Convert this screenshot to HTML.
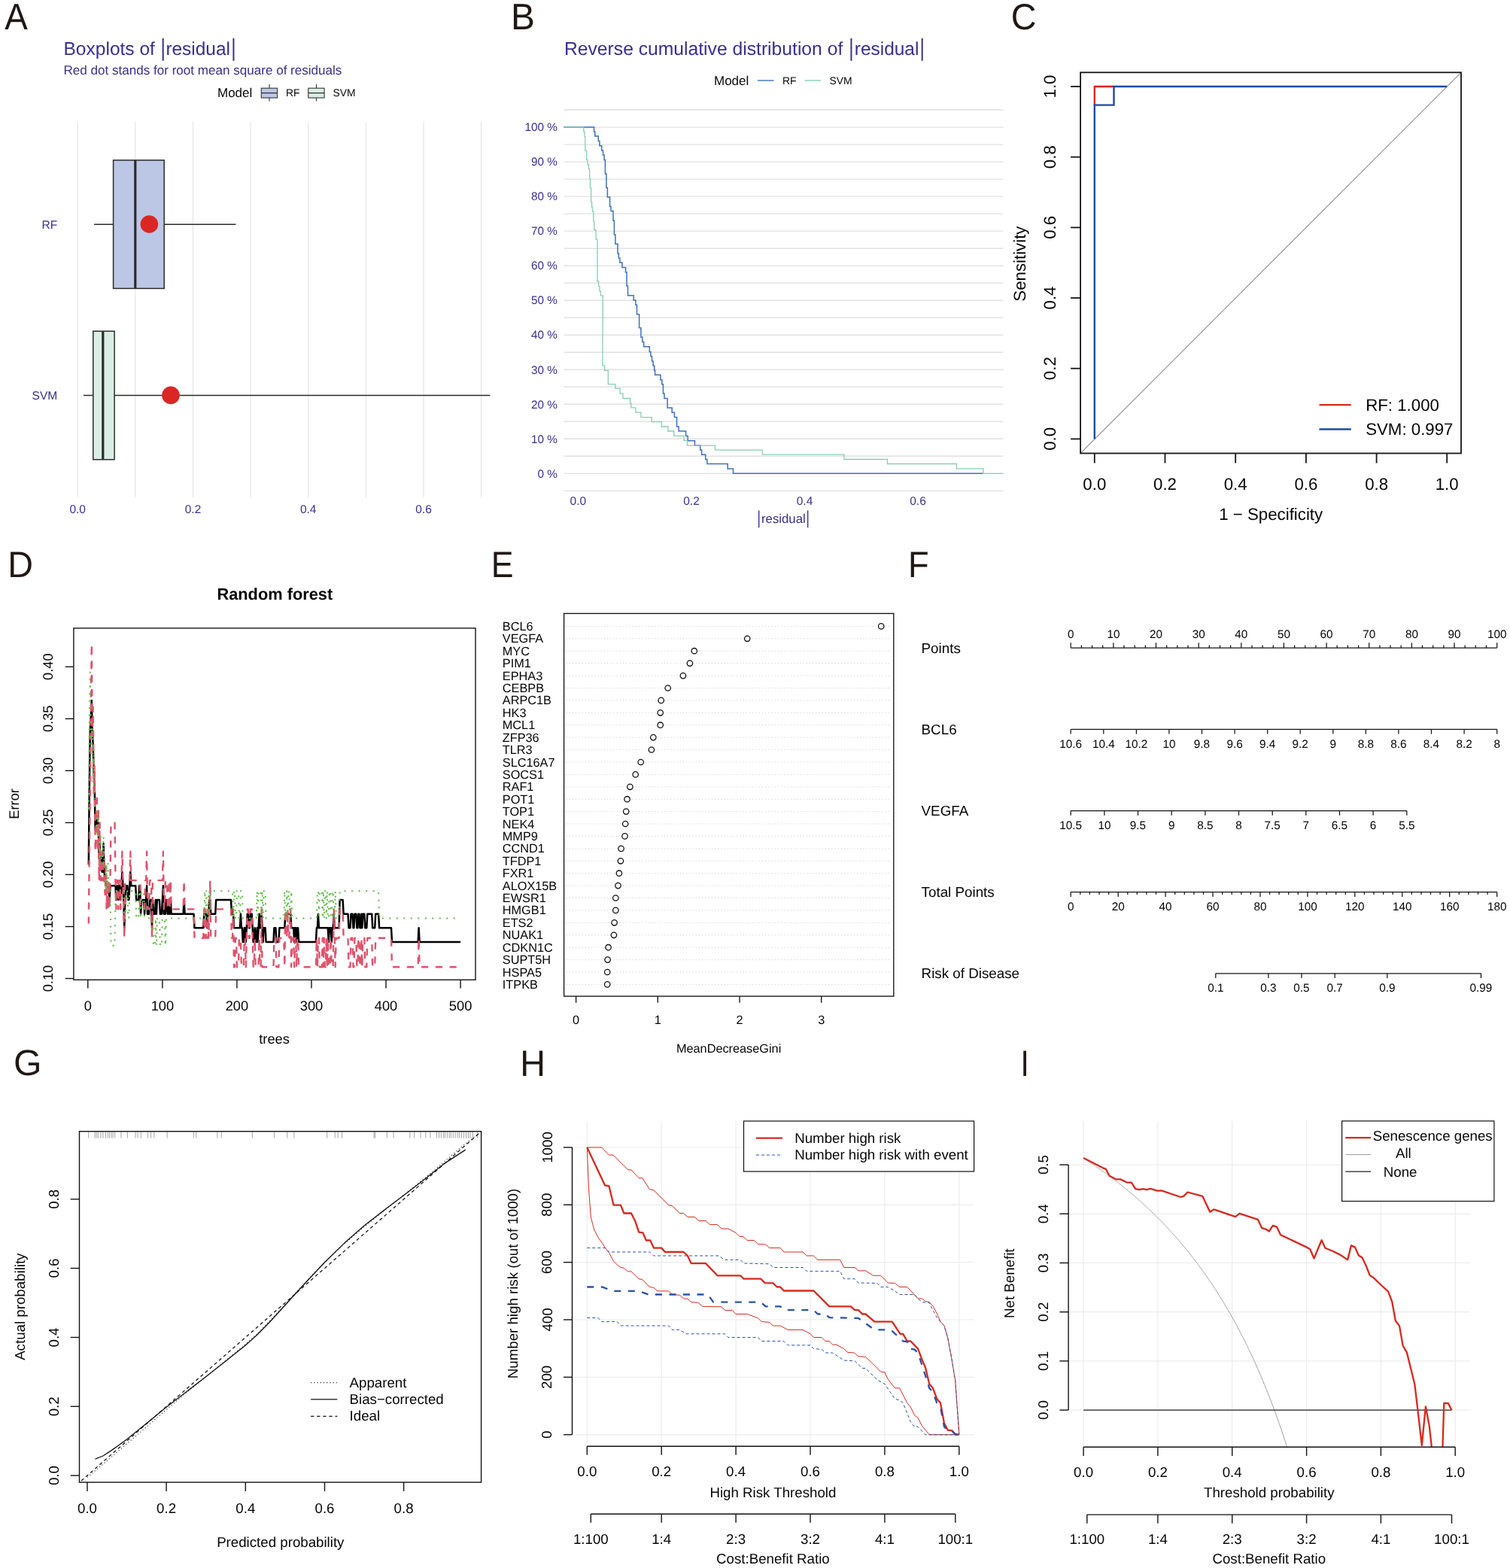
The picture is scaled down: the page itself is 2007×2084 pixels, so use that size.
<!DOCTYPE html>
<html lang="en"><head><meta charset="utf-8"><title>Figure</title>
<style>
html,body{margin:0;padding:0;background:#fff;}
svg{display:block;font-family:"Liberation Sans", sans-serif;}
text{white-space:pre;text-rendering:geometricPrecision;}
</style></head><body>
<svg width="2007" height="2084" viewBox="0 0 2007 2084">
<rect x="0" y="0" width="2007" height="2084" fill="#fff"/>
<text transform="translate(6.31 39.40) scale(0.9282 0.9945)" x="0" y="0" font-size="49.4" fill="#1f1815">A</text>
<text transform="translate(679.08 39.40) scale(0.9665 0.9945)" x="0" y="0" font-size="49.4" fill="#1f1815">B</text>
<text transform="translate(1343.82 39.21) scale(0.9466 0.9836)" x="0" y="0" font-size="49.4" fill="#1f1815">C</text>
<text transform="translate(10.26 766.50) scale(0.9472 0.9827)" x="0" y="0" font-size="49.4" fill="#1f1815">D</text>
<text transform="translate(652.84 766.50) scale(0.9038 0.9827)" x="0" y="0" font-size="49.4" fill="#1f1815">E</text>
<text transform="translate(1207.09 766.50) scale(0.9149 0.9827)" x="0" y="0" font-size="49.4" fill="#1f1815">F</text>
<text transform="translate(17.99 1429.22) scale(0.9765 0.9807)" x="0" y="0" font-size="49.4" fill="#1f1815">G</text>
<text transform="translate(691.17 1429.60) scale(0.9452 0.9827)" x="0" y="0" font-size="49.4" fill="#1f1815">H</text>
<text transform="translate(1356.58 1429.60) scale(0.8183 0.9827)" x="0" y="0" font-size="49.4" fill="#1f1815">I</text>
<text x="84.5" y="73.3" font-size="24.55" fill="#3a2f8f">Boxplots of </text>
<text transform="translate(216.8 74.2) scale(1 1.304)" x="0" y="0" font-size="24.55" text-anchor="middle" fill="#3a2f8f">|</text>
<text x="220.4" y="73.3" font-size="24.45" fill="#3a2f8f">residual</text>
<text transform="translate(310.4 74.2) scale(1 1.304)" x="0" y="0" font-size="24.55" text-anchor="middle" fill="#3a2f8f">|</text>
<text x="84.5" y="99.0" font-size="17.07" fill="#3a2f8f">Red dot stands for root mean square of residuals</text>
<text x="289.0" y="129.3" font-size="17" fill="#050505">Model</text>
<line x1="358.0" y1="112.0" x2="358.0" y2="134.5" stroke="#333" stroke-width="1.1"/>
<rect x="347.3" y="117.2" width="21.3" height="12.8" stroke="#333" fill="#bcc7e6" stroke-width="1.1"/>
<line x1="347.3" y1="123.6" x2="368.6" y2="123.6" stroke="#333" stroke-width="1.3"/>
<line x1="420.5" y1="112.0" x2="420.5" y2="134.5" stroke="#333" stroke-width="1.1"/>
<rect x="409.8" y="117.2" width="21.3" height="12.8" stroke="#333" fill="#dbeee5" stroke-width="1.1"/>
<line x1="409.8" y1="123.6" x2="431.1" y2="123.6" stroke="#333" stroke-width="1.3"/>
<text x="380.0" y="128.0" font-size="13.9" fill="#050505">RF</text>
<text x="442.6" y="128.0" font-size="13.9" fill="#050505">SVM</text>
<line x1="103.2" y1="161.6" x2="103.2" y2="661.3" stroke="#e3e3e3" stroke-width="1.1"/>
<line x1="179.8" y1="161.6" x2="179.8" y2="661.3" stroke="#e3e3e3" stroke-width="1.1"/>
<line x1="256.5" y1="161.6" x2="256.5" y2="661.3" stroke="#e3e3e3" stroke-width="1.1"/>
<line x1="333.1" y1="161.6" x2="333.1" y2="661.3" stroke="#e3e3e3" stroke-width="1.1"/>
<line x1="409.7" y1="161.6" x2="409.7" y2="661.3" stroke="#e3e3e3" stroke-width="1.1"/>
<line x1="486.3" y1="161.6" x2="486.3" y2="661.3" stroke="#e3e3e3" stroke-width="1.1"/>
<line x1="563.0" y1="161.6" x2="563.0" y2="661.3" stroke="#e3e3e3" stroke-width="1.1"/>
<line x1="639.6" y1="161.6" x2="639.6" y2="661.3" stroke="#e3e3e3" stroke-width="1.1"/>
<text x="103.2" y="681.7" font-size="15.5" text-anchor="middle" fill="#3a2f8f">0.0</text>
<text x="256.5" y="681.7" font-size="15.5" text-anchor="middle" fill="#3a2f8f">0.2</text>
<text x="409.7" y="681.7" font-size="15.5" text-anchor="middle" fill="#3a2f8f">0.4</text>
<text x="563.0" y="681.7" font-size="15.5" text-anchor="middle" fill="#3a2f8f">0.6</text>
<text x="76.3" y="303.6" font-size="15.6" text-anchor="end" fill="#3a2f8f">RF</text>
<text x="76.3" y="531.2" font-size="15.6" text-anchor="end" fill="#3a2f8f">SVM</text>
<line x1="125.0" y1="298.2" x2="313.4" y2="298.2" stroke="#2b2b2b" stroke-width="1.5"/>
<rect x="150.6" y="212.9" width="67.6" height="170.5" stroke="#2b2b2b" fill="#bcc7e6" stroke-width="1.5"/>
<line x1="179.8" y1="212.9" x2="179.8" y2="383.4" stroke="#2b2b2b" stroke-width="3.2"/>
<circle cx="198.4" cy="298.0" r="11.8" fill="#db2724" stroke="none" stroke-width="1"/>
<line x1="111.0" y1="525.6" x2="651.4" y2="525.6" stroke="#2b2b2b" stroke-width="1.5"/>
<rect x="123.8" y="440.2" width="28.3" height="170.6" stroke="#2b2b2b" fill="#dbeee5" stroke-width="1.5"/>
<line x1="136.8" y1="440.2" x2="136.8" y2="610.8" stroke="#2b2b2b" stroke-width="3.2"/>
<circle cx="227.0" cy="525.4" r="11.8" fill="#db2724" stroke="none" stroke-width="1"/>
<text x="750.0" y="73.3" font-size="24.68" fill="#3a2f8f">Reverse cumulative distribution of </text>
<text transform="translate(1131.4 74.2) scale(1 1.304)" x="0" y="0" font-size="24.55" text-anchor="middle" fill="#3a2f8f">|</text>
<text x="1135.8" y="73.3" font-size="24.45" fill="#3a2f8f">residual</text>
<text transform="translate(1225.8 74.2) scale(1 1.304)" x="0" y="0" font-size="24.55" text-anchor="middle" fill="#3a2f8f">|</text>
<text transform="translate(1008.7 695.6) scale(1 1.446)" x="0" y="0" font-size="16.8" text-anchor="middle" fill="#3a2f8f">|</text>
<text x="1012.0" y="694.5" font-size="16.8" fill="#3a2f8f">residual</text>
<text transform="translate(1073.7 695.6) scale(1 1.446)" x="0" y="0" font-size="16.8" text-anchor="middle" fill="#3a2f8f">|</text>
<text x="949.0" y="113.2" font-size="17" fill="#050505">Model</text>
<line x1="1007.0" y1="107.0" x2="1028.5" y2="107.0" stroke="#3d72b8" stroke-width="1.4"/>
<text x="1040.0" y="111.7" font-size="13.9" fill="#050505">RF</text>
<line x1="1069.7" y1="107.0" x2="1091.0" y2="107.0" stroke="#86cfb2" stroke-width="1.4"/>
<text x="1102.6" y="111.7" font-size="13.9" fill="#050505">SVM</text>
<line x1="749.3" y1="652.4" x2="1333.5" y2="652.4" stroke="#e2e2e2" stroke-width="1.4"/>
<line x1="749.3" y1="629.4" x2="1333.5" y2="629.4" stroke="#e2e2e2" stroke-width="1.4"/>
<line x1="749.3" y1="606.3" x2="1333.5" y2="606.3" stroke="#e2e2e2" stroke-width="1.4"/>
<line x1="749.3" y1="583.3" x2="1333.5" y2="583.3" stroke="#e2e2e2" stroke-width="1.4"/>
<line x1="749.3" y1="560.3" x2="1333.5" y2="560.3" stroke="#e2e2e2" stroke-width="1.4"/>
<line x1="749.3" y1="537.3" x2="1333.5" y2="537.3" stroke="#e2e2e2" stroke-width="1.4"/>
<line x1="749.3" y1="514.3" x2="1333.5" y2="514.3" stroke="#e2e2e2" stroke-width="1.4"/>
<line x1="749.3" y1="491.3" x2="1333.5" y2="491.3" stroke="#e2e2e2" stroke-width="1.4"/>
<line x1="749.3" y1="468.2" x2="1333.5" y2="468.2" stroke="#e2e2e2" stroke-width="1.4"/>
<line x1="749.3" y1="445.2" x2="1333.5" y2="445.2" stroke="#e2e2e2" stroke-width="1.4"/>
<line x1="749.3" y1="422.2" x2="1333.5" y2="422.2" stroke="#e2e2e2" stroke-width="1.4"/>
<line x1="749.3" y1="399.2" x2="1333.5" y2="399.2" stroke="#e2e2e2" stroke-width="1.4"/>
<line x1="749.3" y1="376.2" x2="1333.5" y2="376.2" stroke="#e2e2e2" stroke-width="1.4"/>
<line x1="749.3" y1="353.2" x2="1333.5" y2="353.2" stroke="#e2e2e2" stroke-width="1.4"/>
<line x1="749.3" y1="330.2" x2="1333.5" y2="330.2" stroke="#e2e2e2" stroke-width="1.4"/>
<line x1="749.3" y1="307.1" x2="1333.5" y2="307.1" stroke="#e2e2e2" stroke-width="1.4"/>
<line x1="749.3" y1="284.1" x2="1333.5" y2="284.1" stroke="#e2e2e2" stroke-width="1.4"/>
<line x1="749.3" y1="261.1" x2="1333.5" y2="261.1" stroke="#e2e2e2" stroke-width="1.4"/>
<line x1="749.3" y1="238.1" x2="1333.5" y2="238.1" stroke="#e2e2e2" stroke-width="1.4"/>
<line x1="749.3" y1="215.1" x2="1333.5" y2="215.1" stroke="#e2e2e2" stroke-width="1.4"/>
<line x1="749.3" y1="192.1" x2="1333.5" y2="192.1" stroke="#e2e2e2" stroke-width="1.4"/>
<line x1="749.3" y1="169.1" x2="1333.5" y2="169.1" stroke="#e2e2e2" stroke-width="1.4"/>
<line x1="749.3" y1="146.0" x2="1333.5" y2="146.0" stroke="#e2e2e2" stroke-width="1.4"/>
<text x="740.8" y="634.6" font-size="15.3" text-anchor="end" fill="#3a2f8f">0 %</text>
<text x="740.8" y="588.5" font-size="15.3" text-anchor="end" fill="#3a2f8f">10 %</text>
<text x="740.8" y="542.5" font-size="15.3" text-anchor="end" fill="#3a2f8f">20 %</text>
<text x="740.8" y="496.5" font-size="15.3" text-anchor="end" fill="#3a2f8f">30 %</text>
<text x="740.8" y="450.4" font-size="15.3" text-anchor="end" fill="#3a2f8f">40 %</text>
<text x="740.8" y="404.4" font-size="15.3" text-anchor="end" fill="#3a2f8f">50 %</text>
<text x="740.8" y="358.4" font-size="15.3" text-anchor="end" fill="#3a2f8f">60 %</text>
<text x="740.8" y="312.3" font-size="15.3" text-anchor="end" fill="#3a2f8f">70 %</text>
<text x="740.8" y="266.3" font-size="15.3" text-anchor="end" fill="#3a2f8f">80 %</text>
<text x="740.8" y="220.3" font-size="15.3" text-anchor="end" fill="#3a2f8f">90 %</text>
<text x="740.8" y="174.2" font-size="15.3" text-anchor="end" fill="#3a2f8f">100 %</text>
<text x="768.4" y="670.8" font-size="15.5" text-anchor="middle" fill="#3a2f8f">0.0</text>
<text x="919.0" y="670.8" font-size="15.5" text-anchor="middle" fill="#3a2f8f">0.2</text>
<text x="1069.5" y="670.8" font-size="15.5" text-anchor="middle" fill="#3a2f8f">0.4</text>
<text x="1220.0" y="670.8" font-size="15.5" text-anchor="middle" fill="#3a2f8f">0.6</text>
<polyline points="749.3,169.1 789.6,169.1 789.6,175.1 790.8,175.1 790.8,181.1 795.3,181.1 795.3,187.5 796.9,187.5 796.9,193.7 799.7,193.7 799.7,200.1 801.5,200.1 801.5,206.1 803.1,206.1 803.1,212.4 804.4,212.4 804.4,231.0 805.9,231.0 805.9,249.6 807.4,249.6 807.4,262.0 810.6,262.0 810.6,274.4 812.0,274.4 812.0,280.6 815.0,280.6 815.0,293.3 816.4,293.3 816.4,311.8 817.9,311.8 817.9,324.3 821.0,324.3 821.0,336.7 822.3,336.7 822.3,342.9 823.9,342.9 823.9,349.1 826.9,349.1 826.9,355.5 831.5,355.5 831.5,361.7 833.0,361.7 833.0,380.1 834.5,380.1 834.5,392.8 842.2,392.8 842.2,399.0 844.9,399.0 844.9,405.2 846.5,405.2 846.5,417.7 849.6,417.7 849.6,436.3 849.6,435.7 851.9,435.7 851.9,448.1 853.8,448.1 853.8,454.5 855.7,454.5 855.7,460.8 863.3,460.8 863.3,467.5 864.9,467.5 864.9,473.5 866.5,473.5 866.5,479.9 868.1,479.9 868.1,485.9 869.7,485.9 869.7,492.3 870.6,492.3 870.6,498.3 877.9,498.3 877.9,504.7 879.8,504.7 879.8,510.7 881.4,510.7 881.4,523.1 883.0,523.1 883.0,529.5 887.1,529.5 887.1,541.9 893.2,541.9 893.2,548.2 896.4,548.2 896.4,554.6 899.5,554.6 899.5,567.0 902.1,567.0 902.1,573.0 911.6,573.0 911.6,579.4 914.2,579.4 914.2,585.7 923.4,585.7 923.4,592.1 930.7,592.1 930.7,598.1 932.6,598.1 932.6,604.2 937.7,604.2 937.7,610.5 939.9,610.5 939.9,616.5 967.2,616.5 967.2,622.9 974.5,622.9 974.5,629.3 1306.3,629.3" fill="none" stroke="#3d72b8" stroke-width="1.5" stroke-linejoin="miter"/>
<polyline points="749.3,169.1 775.8,169.1 775.8,175.1 776.9,175.1 776.9,181.8 777.8,181.8 777.8,200.1 779.7,200.1 779.7,212.4 781.0,212.4 781.0,218.6 782.4,218.6 782.4,224.7 783.7,224.7 783.7,237.4 784.5,237.4 784.5,249.6 785.6,249.6 785.6,268.4 786.6,268.4 786.6,275.5 787.4,275.5 787.4,281.1 788.8,281.1 788.8,293.8 789.7,293.8 789.7,305.7 792.1,305.7 792.1,318.1 794.0,318.1 794.0,374.0 795.6,374.0 795.6,380.4 796.9,380.4 796.9,386.8 798.3,386.8 798.3,392.8 801.3,392.8 801.3,430.0 801.0,430.0 801.0,485.9 803.6,485.9 803.6,492.3 808.3,492.3 808.3,510.7 817.9,510.7 817.9,516.4 824.2,516.4 824.2,523.1 828.0,523.1 828.0,529.5 837.6,529.5 837.6,535.8 838.8,535.8 838.8,541.9 844.9,541.9 844.9,548.2 851.9,548.2 851.9,554.6 866.2,554.6 866.2,560.6 879.2,560.6 879.2,567.0 887.8,567.0 887.8,573.0 895.7,573.0 895.7,579.4 909.1,579.4 909.1,585.7 913.5,585.7 913.5,592.1 950.4,592.1 950.4,598.1 1013.3,598.1 1013.3,604.2 1122.0,604.2 1122.0,610.5 1179.5,610.5 1179.5,616.5 1271.4,616.5 1271.4,622.9 1306.9,622.9 1306.9,629.3 1333.3,629.3" fill="none" stroke="#86cfb2" stroke-width="1.3" stroke-linejoin="miter"/>
<line x1="1436.1" y1="602.5" x2="1942.0" y2="96.3" stroke="#9a9a9a" stroke-width="1.2"/>
<polyline points="1454.8,139.6 1454.8,115.0 1480.5,115.0" fill="none" stroke="#d9251c" stroke-width="2.3" stroke-linejoin="miter"/>
<polyline points="1454.8,583.4 1454.8,139.6 1480.5,139.6 1480.5,115.0 1923.2,115.0" fill="none" stroke="#2049a2" stroke-width="2.4" stroke-linejoin="miter"/>
<rect x="1436.1" y="96.3" width="505.9" height="506.2" stroke="#151515" fill="none" stroke-width="1.8"/>
<line x1="1454.8" y1="602.5" x2="1454.8" y2="615.5" stroke="#151515" stroke-width="1.8"/>
<text x="1454.8" y="650.5" font-size="22.25" text-anchor="middle" fill="#050505">0.0</text>
<line x1="1423.1" y1="583.4" x2="1436.1" y2="583.4" stroke="#151515" stroke-width="1.8"/>
<text x="1403.3" y="583.4" font-size="22.25" text-anchor="middle" fill="#050505" transform="rotate(-90 1403.3 583.4)">0.0</text>
<line x1="1548.5" y1="602.5" x2="1548.5" y2="615.5" stroke="#151515" stroke-width="1.8"/>
<text x="1548.5" y="650.5" font-size="22.25" text-anchor="middle" fill="#050505">0.2</text>
<line x1="1423.1" y1="489.7" x2="1436.1" y2="489.7" stroke="#151515" stroke-width="1.8"/>
<text x="1403.3" y="489.7" font-size="22.25" text-anchor="middle" fill="#050505" transform="rotate(-90 1403.3 489.7)">0.2</text>
<line x1="1642.2" y1="602.5" x2="1642.2" y2="615.5" stroke="#151515" stroke-width="1.8"/>
<text x="1642.2" y="650.5" font-size="22.25" text-anchor="middle" fill="#050505">0.4</text>
<line x1="1423.1" y1="396.0" x2="1436.1" y2="396.0" stroke="#151515" stroke-width="1.8"/>
<text x="1403.3" y="396.0" font-size="22.25" text-anchor="middle" fill="#050505" transform="rotate(-90 1403.3 396.0)">0.4</text>
<line x1="1735.9" y1="602.5" x2="1735.9" y2="615.5" stroke="#151515" stroke-width="1.8"/>
<text x="1735.9" y="650.5" font-size="22.25" text-anchor="middle" fill="#050505">0.6</text>
<line x1="1423.1" y1="302.4" x2="1436.1" y2="302.4" stroke="#151515" stroke-width="1.8"/>
<text x="1403.3" y="302.4" font-size="22.25" text-anchor="middle" fill="#050505" transform="rotate(-90 1403.3 302.4)">0.6</text>
<line x1="1829.6" y1="602.5" x2="1829.6" y2="615.5" stroke="#151515" stroke-width="1.8"/>
<text x="1829.6" y="650.5" font-size="22.25" text-anchor="middle" fill="#050505">0.8</text>
<line x1="1423.1" y1="208.7" x2="1436.1" y2="208.7" stroke="#151515" stroke-width="1.8"/>
<text x="1403.3" y="208.7" font-size="22.25" text-anchor="middle" fill="#050505" transform="rotate(-90 1403.3 208.7)">0.8</text>
<line x1="1923.2" y1="602.5" x2="1923.2" y2="615.5" stroke="#151515" stroke-width="1.8"/>
<text x="1923.2" y="650.5" font-size="22.25" text-anchor="middle" fill="#050505">1.0</text>
<line x1="1423.1" y1="115.0" x2="1436.1" y2="115.0" stroke="#151515" stroke-width="1.8"/>
<text x="1403.3" y="115.0" font-size="22.25" text-anchor="middle" fill="#050505" transform="rotate(-90 1403.3 115.0)">1.0</text>
<text x="1689.2" y="690.8" font-size="22.25" text-anchor="middle" fill="#050505">1 − Specificity</text>
<text x="1363.0" y="350.6" font-size="22.25" text-anchor="middle" fill="#050505" transform="rotate(-90 1363.0 350.6)">Sensitivity</text>
<line x1="1753.5" y1="538.2" x2="1795.8" y2="538.2" stroke="#d9281f" stroke-width="2.3"/>
<line x1="1753.5" y1="570.5" x2="1795.8" y2="570.5" stroke="#2049a2" stroke-width="2.4"/>
<text x="1815.2" y="545.6" font-size="22.25" fill="#050505">RF: 1.000</text>
<text x="1815.2" y="577.9" font-size="22.25" fill="#050505">SVM: 0.997</text>
<text x="365.3" y="797.1" font-size="21.8" text-anchor="middle" font-weight="bold" fill="#050505">Random forest</text>
<polyline points="117.8,1149.3 118.8,1046.7 119.8,972.0 120.8,953.4 121.8,931.0 122.7,972.0 123.7,990.7 124.7,1028.0 125.7,1046.7 126.7,1102.7 127.7,1084.0 128.7,1084.0 129.7,1102.7 130.7,1093.4 131.7,1140.0 132.6,1121.3 133.6,1140.0 134.6,1140.0 135.6,1158.7 136.6,1158.7 137.6,1121.3 138.6,1158.7 139.6,1168.0 140.6,1168.0 141.6,1177.3 142.6,1177.3 143.5,1177.3 144.5,1177.3 145.5,1196.0 146.5,1177.3 147.5,1177.3 148.5,1177.3 149.5,1177.3 150.5,1177.3 151.5,1177.3 152.5,1177.3 153.5,1177.3 154.4,1196.0 155.4,1177.3 156.4,1177.3 157.4,1196.0 158.4,1177.3 159.4,1177.3 160.4,1196.0 161.4,1177.3 162.4,1158.7 163.4,1177.3 164.3,1196.0 165.3,1233.3 166.3,1196.0 167.3,1177.3 168.3,1177.3 169.3,1177.3 170.3,1196.0 171.3,1196.0 172.3,1177.3 173.3,1158.7 174.3,1177.3 175.2,1177.3 176.2,1177.3 177.2,1177.3 178.2,1177.3 179.2,1177.3 180.2,1177.3 181.2,1196.0 182.2,1196.0 183.2,1196.0 184.2,1196.0 185.2,1177.3 186.1,1177.3 187.1,1214.7 188.1,1196.0 189.1,1196.0 190.1,1196.0 191.1,1196.0 192.1,1214.7 193.1,1196.0 194.1,1196.0 195.1,1177.3 196.0,1214.7 197.0,1214.7 198.0,1214.7 199.0,1196.0 200.0,1196.0 201.0,1196.0 202.0,1233.3 203.0,1196.0 204.0,1214.7 205.0,1214.7 206.0,1214.7 206.9,1196.0 207.9,1214.7 208.9,1196.0 209.9,1196.0 210.9,1196.0 211.9,1196.0 212.9,1214.7 213.9,1214.7 214.9,1214.7 215.9,1196.0 216.9,1177.3 217.8,1214.7 218.8,1214.7 219.8,1214.7 220.8,1196.0 221.8,1196.0 222.8,1214.7 223.8,1214.7 224.8,1196.0 225.8,1214.7 226.8,1196.0 227.7,1214.7 228.7,1214.7 229.7,1214.7 230.7,1214.7 231.7,1214.7 232.7,1214.7 233.7,1214.7 234.7,1214.7 235.7,1214.7 236.7,1214.7 237.7,1214.7 238.6,1214.7 239.6,1214.7 240.6,1214.7 241.6,1214.7 242.6,1214.7 243.6,1214.7 244.6,1196.0 245.6,1214.7 246.6,1214.7 247.6,1214.7 248.5,1214.7 249.5,1214.7 250.5,1214.7 251.5,1214.7 252.5,1214.7 253.5,1214.7 254.5,1214.7 255.5,1214.7 256.5,1214.7 257.5,1214.7 258.5,1233.3 259.4,1233.3 260.4,1233.3 261.4,1233.3 262.4,1233.3 263.4,1233.3 264.4,1233.3 265.4,1233.3 266.4,1233.3 267.4,1233.3 268.4,1233.3 269.4,1233.3 270.3,1233.3 271.3,1214.7 272.3,1214.7 273.3,1214.7 274.3,1214.7 275.3,1233.3 276.3,1214.7 277.3,1214.7 278.3,1196.0 279.3,1196.0 280.2,1214.7 281.2,1214.7 282.2,1214.7 283.2,1214.7 284.2,1214.7 285.2,1214.7 286.2,1214.7 287.2,1196.0 288.2,1196.0 289.2,1196.0 290.2,1196.0 291.1,1196.0 292.1,1196.0 293.1,1196.0 294.1,1196.0 295.1,1196.0 296.1,1196.0 297.1,1196.0 298.1,1196.0 299.1,1196.0 300.1,1196.0 301.1,1196.0 302.0,1196.0 303.0,1196.0 304.0,1196.0 305.0,1196.0 306.0,1196.0 307.0,1196.0 308.0,1214.7 309.0,1214.7 310.0,1214.7 311.0,1233.3 311.9,1233.3 312.9,1233.3 313.9,1233.3 314.9,1233.3 315.9,1233.3 316.9,1233.3 317.9,1233.3 318.9,1233.3 319.9,1214.7 320.9,1233.3 321.9,1233.3 322.8,1252.0 323.8,1252.0 324.8,1233.3 325.8,1233.3 326.8,1252.0 327.8,1233.3 328.8,1214.7 329.8,1214.7 330.8,1233.3 331.8,1233.3 332.8,1214.7 333.7,1214.7 334.7,1214.7 335.7,1233.3 336.7,1252.0 337.7,1252.0 338.7,1233.3 339.7,1252.0 340.7,1252.0 341.7,1233.3 342.7,1252.0 343.6,1233.3 344.6,1214.7 345.6,1233.3 346.6,1233.3 347.6,1214.7 348.6,1233.3 349.6,1252.0 350.6,1233.3 351.6,1233.3 352.6,1233.3 353.6,1252.0 354.5,1252.0 355.5,1252.0 356.5,1252.0 357.5,1252.0 358.5,1252.0 359.5,1252.0 360.5,1252.0 361.5,1252.0 362.5,1252.0 363.5,1252.0 364.4,1233.3 365.4,1233.3 366.4,1233.3 367.4,1252.0 368.4,1252.0 369.4,1252.0 370.4,1252.0 371.4,1233.3 372.4,1233.3 373.4,1233.3 374.4,1233.3 375.3,1233.3 376.3,1233.3 377.3,1233.3 378.3,1233.3 379.3,1214.7 380.3,1214.7 381.3,1214.7 382.3,1214.7 383.3,1214.7 384.3,1214.7 385.3,1214.7 386.2,1214.7 387.2,1233.3 388.2,1233.3 389.2,1233.3 390.2,1233.3 391.2,1252.0 392.2,1233.3 393.2,1233.3 394.2,1252.0 395.2,1233.3 396.1,1233.3 397.1,1252.0 398.1,1252.0 399.1,1252.0 400.1,1252.0 401.1,1252.0 402.1,1252.0 403.1,1252.0 404.1,1252.0 405.1,1252.0 406.1,1252.0 407.0,1252.0 408.0,1252.0 409.0,1252.0 410.0,1252.0 411.0,1252.0 412.0,1252.0 413.0,1252.0 414.0,1252.0 415.0,1252.0 416.0,1252.0 417.0,1252.0 417.9,1252.0 418.9,1252.0 419.9,1252.0 420.9,1233.3 421.9,1233.3 422.9,1214.7 423.9,1233.3 424.9,1233.3 425.9,1233.3 426.9,1233.3 427.8,1233.3 428.8,1233.3 429.8,1233.3 430.8,1233.3 431.8,1233.3 432.8,1233.3 433.8,1233.3 434.8,1233.3 435.8,1233.3 436.8,1252.0 437.8,1233.3 438.7,1233.3 439.7,1233.3 440.7,1252.0 441.7,1233.3 442.7,1233.3 443.7,1214.7 444.7,1233.3 445.7,1233.3 446.7,1233.3 447.7,1233.3 448.7,1233.3 449.6,1233.3 450.6,1233.3 451.6,1196.0 452.6,1196.0 453.6,1196.0 454.6,1196.0 455.6,1196.0 456.6,1214.7 457.6,1214.7 458.6,1214.7 459.5,1214.7 460.5,1214.7 461.5,1214.7 462.5,1214.7 463.5,1233.3 464.5,1233.3 465.5,1233.3 466.5,1214.7 467.5,1214.7 468.5,1214.7 469.5,1233.3 470.4,1233.3 471.4,1214.7 472.4,1214.7 473.4,1214.7 474.4,1233.3 475.4,1233.3 476.4,1214.7 477.4,1214.7 478.4,1233.3 479.4,1233.3 480.4,1214.7 481.3,1233.3 482.3,1214.7 483.3,1214.7 484.3,1214.7 485.3,1233.3 486.3,1233.3 487.3,1233.3 488.3,1214.7 489.3,1214.7 490.3,1214.7 491.2,1214.7 492.2,1214.7 493.2,1214.7 494.2,1214.7 495.2,1233.3 496.2,1233.3 497.2,1233.3 498.2,1233.3 499.2,1214.7 500.2,1214.7 501.2,1214.7 502.1,1214.7 503.1,1214.7 504.1,1233.3 505.1,1233.3 506.1,1233.3 507.1,1233.3 508.1,1233.3 509.1,1233.3 510.1,1233.3 511.1,1233.3 512.0,1233.3 513.0,1233.3 514.0,1233.3 515.0,1233.3 516.0,1233.3 517.0,1233.3 518.0,1233.3 519.0,1233.3 520.0,1233.3 521.0,1252.0 522.0,1252.0 522.9,1252.0 523.9,1252.0 524.9,1252.0 525.9,1252.0 526.9,1252.0 527.9,1252.0 528.9,1252.0 529.9,1252.0 530.9,1252.0 531.9,1252.0 532.9,1252.0 533.8,1252.0 534.8,1252.0 535.8,1252.0 536.8,1252.0 537.8,1252.0 538.8,1252.0 539.8,1252.0 540.8,1252.0 541.8,1252.0 542.8,1252.0 543.7,1252.0 544.7,1252.0 545.7,1252.0 546.7,1252.0 547.7,1252.0 548.7,1252.0 549.7,1252.0 550.7,1252.0 551.7,1252.0 552.7,1252.0 553.7,1252.0 554.6,1252.0 555.6,1252.0 556.6,1233.3 557.6,1252.0 558.6,1252.0 559.6,1252.0 560.6,1252.0 561.6,1252.0 562.6,1252.0 563.6,1252.0 564.6,1252.0 565.5,1252.0 566.5,1252.0 567.5,1252.0 568.5,1252.0 569.5,1252.0 570.5,1252.0 571.5,1252.0 572.5,1252.0 573.5,1252.0 574.5,1252.0 575.4,1252.0 576.4,1252.0 577.4,1252.0 578.4,1252.0 579.4,1252.0 580.4,1252.0 581.4,1252.0 582.4,1252.0 583.4,1252.0 584.4,1252.0 585.4,1252.0 586.3,1252.0 587.3,1252.0 588.3,1252.0 589.3,1252.0 590.3,1252.0 591.3,1252.0 592.3,1252.0 593.3,1252.0 594.3,1252.0 595.3,1252.0 596.3,1252.0 597.2,1252.0 598.2,1252.0 599.2,1252.0 600.2,1252.0 601.2,1252.0 602.2,1252.0 603.2,1252.0 604.2,1252.0 605.2,1252.0 606.2,1252.0 607.1,1252.0 608.1,1252.0 609.1,1252.0 610.1,1252.0 611.1,1252.0 612.1,1252.0" fill="none" stroke="#000" stroke-width="2.5" stroke-linejoin="round"/>
<polyline points="117.8,1227.6 118.8,1131.7 119.8,1055.0 120.8,939.9 121.8,855.5 122.7,978.3 123.7,939.9 124.7,1055.0 125.7,1016.6 126.7,1131.7 127.7,1093.4 128.7,1055.0 129.7,1131.7 130.7,1074.2 131.7,1170.1 132.6,1093.4 133.6,1170.1 134.6,1131.7 135.6,1170.1 136.6,1170.1 137.6,1131.7 138.6,1170.1 139.6,1189.3 140.6,1150.9 141.6,1208.4 142.6,1170.1 143.5,1208.4 144.5,1170.1 145.5,1208.4 146.5,1170.1 147.5,1093.4 148.5,1093.4 149.5,1093.4 150.5,1093.4 151.5,1093.4 152.5,1093.4 153.5,1170.1 154.4,1208.4 155.4,1170.1 156.4,1170.1 157.4,1208.4 158.4,1170.1 159.4,1170.1 160.4,1208.4 161.4,1170.1 162.4,1131.7 163.4,1170.1 164.3,1208.4 165.3,1246.8 166.3,1170.1 167.3,1170.1 168.3,1170.1 169.3,1170.1 170.3,1170.1 171.3,1170.1 172.3,1170.1 173.3,1131.7 174.3,1170.1 175.2,1170.1 176.2,1170.1 177.2,1170.1 178.2,1170.1 179.2,1170.1 180.2,1170.1 181.2,1170.1 182.2,1170.1 183.2,1170.1 184.2,1170.1 185.2,1170.1 186.1,1170.1 187.1,1208.4 188.1,1208.4 189.1,1208.4 190.1,1208.4 191.1,1208.4 192.1,1208.4 193.1,1170.1 194.1,1170.1 195.1,1131.7 196.0,1208.4 197.0,1208.4 198.0,1208.4 199.0,1170.1 200.0,1170.1 201.0,1170.1 202.0,1246.8 203.0,1170.1 204.0,1170.1 205.0,1170.1 206.0,1170.1 206.9,1170.1 207.9,1170.1 208.9,1170.1 209.9,1170.1 210.9,1170.1 211.9,1170.1 212.9,1170.1 213.9,1170.1 214.9,1170.1 215.9,1170.1 216.9,1131.7 217.8,1208.4 218.8,1208.4 219.8,1170.1 220.8,1170.1 221.8,1170.1 222.8,1208.4 223.8,1208.4 224.8,1170.1 225.8,1208.4 226.8,1170.1 227.7,1208.4 228.7,1208.4 229.7,1208.4 230.7,1208.4 231.7,1208.4 232.7,1208.4 233.7,1208.4 234.7,1208.4 235.7,1208.4 236.7,1208.4 237.7,1208.4 238.6,1208.4 239.6,1208.4 240.6,1208.4 241.6,1208.4 242.6,1208.4 243.6,1208.4 244.6,1170.1 245.6,1208.4 246.6,1208.4 247.6,1208.4 248.5,1208.4 249.5,1208.4 250.5,1208.4 251.5,1208.4 252.5,1208.4 253.5,1208.4 254.5,1208.4 255.5,1208.4 256.5,1208.4 257.5,1208.4 258.5,1246.8 259.4,1246.8 260.4,1246.8 261.4,1246.8 262.4,1246.8 263.4,1246.8 264.4,1246.8 265.4,1246.8 266.4,1246.8 267.4,1246.8 268.4,1246.8 269.4,1246.8 270.3,1246.8 271.3,1208.4 272.3,1246.8 273.3,1208.4 274.3,1246.8 275.3,1246.8 276.3,1208.4 277.3,1246.8 278.3,1208.4 279.3,1170.1 280.2,1246.8 281.2,1246.8 282.2,1246.8 283.2,1246.8 284.2,1246.8 285.2,1246.8 286.2,1246.8 287.2,1208.4 288.2,1208.4 289.2,1208.4 290.2,1208.4 291.1,1208.4 292.1,1208.4 293.1,1208.4 294.1,1208.4 295.1,1208.4 296.1,1208.4 297.1,1208.4 298.1,1208.4 299.1,1208.4 300.1,1208.4 301.1,1208.4 302.0,1208.4 303.0,1208.4 304.0,1208.4 305.0,1208.4 306.0,1208.4 307.0,1208.4 308.0,1246.8 309.0,1246.8 310.0,1208.4 311.0,1285.2 311.9,1285.2 312.9,1246.8 313.9,1246.8 314.9,1285.2 315.9,1285.2 316.9,1285.2 317.9,1246.8 318.9,1246.8 319.9,1246.8 320.9,1285.2 321.9,1285.2 322.8,1285.2 323.8,1285.2 324.8,1246.8 325.8,1246.8 326.8,1285.2 327.8,1246.8 328.8,1208.4 329.8,1208.4 330.8,1246.8 331.8,1246.8 332.8,1208.4 333.7,1208.4 334.7,1208.4 335.7,1246.8 336.7,1285.2 337.7,1285.2 338.7,1246.8 339.7,1285.2 340.7,1285.2 341.7,1285.2 342.7,1285.2 343.6,1285.2 344.6,1246.8 345.6,1285.2 346.6,1285.2 347.6,1208.4 348.6,1285.2 349.6,1285.2 350.6,1285.2 351.6,1285.2 352.6,1285.2 353.6,1285.2 354.5,1285.2 355.5,1285.2 356.5,1285.2 357.5,1285.2 358.5,1285.2 359.5,1285.2 360.5,1285.2 361.5,1285.2 362.5,1285.2 363.5,1285.2 364.4,1246.8 365.4,1246.8 366.4,1246.8 367.4,1285.2 368.4,1285.2 369.4,1285.2 370.4,1285.2 371.4,1246.8 372.4,1246.8 373.4,1246.8 374.4,1246.8 375.3,1246.8 376.3,1246.8 377.3,1246.8 378.3,1285.2 379.3,1208.4 380.3,1208.4 381.3,1246.8 382.3,1208.4 383.3,1246.8 384.3,1246.8 385.3,1208.4 386.2,1208.4 387.2,1285.2 388.2,1246.8 389.2,1246.8 390.2,1246.8 391.2,1285.2 392.2,1246.8 393.2,1246.8 394.2,1285.2 395.2,1246.8 396.1,1246.8 397.1,1285.2 398.1,1285.2 399.1,1285.2 400.1,1285.2 401.1,1285.2 402.1,1285.2 403.1,1285.2 404.1,1285.2 405.1,1285.2 406.1,1285.2 407.0,1285.2 408.0,1285.2 409.0,1285.2 410.0,1285.2 411.0,1285.2 412.0,1285.2 413.0,1285.2 414.0,1285.2 415.0,1285.2 416.0,1285.2 417.0,1285.2 417.9,1285.2 418.9,1285.2 419.9,1285.2 420.9,1246.8 421.9,1285.2 422.9,1246.8 423.9,1246.8 424.9,1285.2 425.9,1285.2 426.9,1285.2 427.8,1285.2 428.8,1246.8 429.8,1285.2 430.8,1246.8 431.8,1285.2 432.8,1285.2 433.8,1246.8 434.8,1285.2 435.8,1246.8 436.8,1285.2 437.8,1285.2 438.7,1285.2 439.7,1246.8 440.7,1285.2 441.7,1285.2 442.7,1285.2 443.7,1208.4 444.7,1246.8 445.7,1285.2 446.7,1246.8 447.7,1246.8 448.7,1246.8 449.6,1246.8 450.6,1246.8 451.6,1208.4 452.6,1208.4 453.6,1208.4 454.6,1208.4 455.6,1208.4 456.6,1246.8 457.6,1246.8 458.6,1246.8 459.5,1246.8 460.5,1246.8 461.5,1246.8 462.5,1246.8 463.5,1285.2 464.5,1285.2 465.5,1285.2 466.5,1246.8 467.5,1246.8 468.5,1246.8 469.5,1285.2 470.4,1285.2 471.4,1246.8 472.4,1246.8 473.4,1246.8 474.4,1285.2 475.4,1285.2 476.4,1246.8 477.4,1246.8 478.4,1285.2 479.4,1285.2 480.4,1246.8 481.3,1285.2 482.3,1246.8 483.3,1246.8 484.3,1246.8 485.3,1285.2 486.3,1285.2 487.3,1285.2 488.3,1246.8 489.3,1246.8 490.3,1246.8 491.2,1246.8 492.2,1246.8 493.2,1246.8 494.2,1246.8 495.2,1285.2 496.2,1285.2 497.2,1285.2 498.2,1285.2 499.2,1246.8 500.2,1246.8 501.2,1246.8 502.1,1246.8 503.1,1246.8 504.1,1246.8 505.1,1246.8 506.1,1246.8 507.1,1246.8 508.1,1246.8 509.1,1246.8 510.1,1246.8 511.1,1246.8 512.0,1246.8 513.0,1246.8 514.0,1246.8 515.0,1246.8 516.0,1246.8 517.0,1246.8 518.0,1246.8 519.0,1246.8 520.0,1246.8 521.0,1285.2 522.0,1285.2 522.9,1285.2 523.9,1285.2 524.9,1285.2 525.9,1285.2 526.9,1285.2 527.9,1285.2 528.9,1285.2 529.9,1285.2 530.9,1285.2 531.9,1285.2 532.9,1285.2 533.8,1285.2 534.8,1285.2 535.8,1285.2 536.8,1285.2 537.8,1285.2 538.8,1285.2 539.8,1285.2 540.8,1285.2 541.8,1285.2 542.8,1285.2 543.7,1285.2 544.7,1285.2 545.7,1285.2 546.7,1285.2 547.7,1285.2 548.7,1285.2 549.7,1285.2 550.7,1285.2 551.7,1285.2 552.7,1285.2 553.7,1285.2 554.6,1285.2 555.6,1285.2 556.6,1246.8 557.6,1285.2 558.6,1285.2 559.6,1285.2 560.6,1285.2 561.6,1285.2 562.6,1285.2 563.6,1285.2 564.6,1285.2 565.5,1285.2 566.5,1285.2 567.5,1285.2 568.5,1285.2 569.5,1285.2 570.5,1285.2 571.5,1285.2 572.5,1285.2 573.5,1285.2 574.5,1285.2 575.4,1285.2 576.4,1285.2 577.4,1285.2 578.4,1285.2 579.4,1285.2 580.4,1285.2 581.4,1285.2 582.4,1285.2 583.4,1285.2 584.4,1285.2 585.4,1285.2 586.3,1285.2 587.3,1285.2 588.3,1285.2 589.3,1285.2 590.3,1285.2 591.3,1285.2 592.3,1285.2 593.3,1285.2 594.3,1285.2 595.3,1285.2 596.3,1285.2 597.2,1285.2 598.2,1285.2 599.2,1285.2 600.2,1285.2 601.2,1285.2 602.2,1285.2 603.2,1285.2 604.2,1285.2 605.2,1285.2 606.2,1285.2 607.1,1285.2 608.1,1285.2 609.1,1285.2 610.1,1285.2 611.1,1285.2 612.1,1285.2" fill="none" stroke="#df536b" stroke-width="2.4" stroke-linejoin="round" stroke-dasharray="9.2 9.6"/>
<polyline points="117.8,1075.2 118.8,966.2 119.8,893.5 120.8,966.2 121.8,1002.5 122.7,966.2 123.7,1038.8 124.7,1002.5 125.7,1075.2 126.7,1075.2 127.7,1075.2 128.7,1111.5 129.7,1075.2 130.7,1111.5 131.7,1111.5 132.6,1147.9 133.6,1111.5 134.6,1147.9 135.6,1147.9 136.6,1147.9 137.6,1111.5 138.6,1147.9 139.6,1147.9 140.6,1184.2 141.6,1147.9 142.6,1184.2 143.5,1147.9 144.5,1184.2 145.5,1184.2 146.5,1184.2 147.5,1256.9 148.5,1256.9 149.5,1256.9 150.5,1256.9 151.5,1256.9 152.5,1256.9 153.5,1184.2 154.4,1184.2 155.4,1184.2 156.4,1184.2 157.4,1184.2 158.4,1184.2 159.4,1184.2 160.4,1184.2 161.4,1184.2 162.4,1184.2 163.4,1184.2 164.3,1184.2 165.3,1220.5 166.3,1220.5 167.3,1184.2 168.3,1184.2 169.3,1184.2 170.3,1220.5 171.3,1220.5 172.3,1184.2 173.3,1184.2 174.3,1184.2 175.2,1184.2 176.2,1184.2 177.2,1184.2 178.2,1184.2 179.2,1184.2 180.2,1184.2 181.2,1220.5 182.2,1220.5 183.2,1220.5 184.2,1220.5 185.2,1184.2 186.1,1184.2 187.1,1220.5 188.1,1184.2 189.1,1184.2 190.1,1184.2 191.1,1184.2 192.1,1220.5 193.1,1220.5 194.1,1220.5 195.1,1220.5 196.0,1220.5 197.0,1220.5 198.0,1220.5 199.0,1220.5 200.0,1220.5 201.0,1220.5 202.0,1220.5 203.0,1220.5 204.0,1256.9 205.0,1256.9 206.0,1256.9 206.9,1220.5 207.9,1256.9 208.9,1220.5 209.9,1220.5 210.9,1220.5 211.9,1220.5 212.9,1256.9 213.9,1256.9 214.9,1256.9 215.9,1220.5 216.9,1220.5 217.8,1220.5 218.8,1220.5 219.8,1256.9 220.8,1220.5 221.8,1220.5 222.8,1220.5 223.8,1220.5 224.8,1220.5 225.8,1220.5 226.8,1220.5 227.7,1220.5 228.7,1220.5 229.7,1220.5 230.7,1220.5 231.7,1220.5 232.7,1220.5 233.7,1220.5 234.7,1220.5 235.7,1220.5 236.7,1220.5 237.7,1220.5 238.6,1220.5 239.6,1220.5 240.6,1220.5 241.6,1220.5 242.6,1220.5 243.6,1220.5 244.6,1220.5 245.6,1220.5 246.6,1220.5 247.6,1220.5 248.5,1220.5 249.5,1220.5 250.5,1220.5 251.5,1220.5 252.5,1220.5 253.5,1220.5 254.5,1220.5 255.5,1220.5 256.5,1220.5 257.5,1220.5 258.5,1220.5 259.4,1220.5 260.4,1220.5 261.4,1220.5 262.4,1220.5 263.4,1220.5 264.4,1220.5 265.4,1220.5 266.4,1220.5 267.4,1220.5 268.4,1220.5 269.4,1220.5 270.3,1220.5 271.3,1220.5 272.3,1184.2 273.3,1220.5 274.3,1184.2 275.3,1220.5 276.3,1220.5 277.3,1184.2 278.3,1184.2 279.3,1220.5 280.2,1184.2 281.2,1184.2 282.2,1184.2 283.2,1184.2 284.2,1184.2 285.2,1184.2 286.2,1184.2 287.2,1184.2 288.2,1184.2 289.2,1184.2 290.2,1184.2 291.1,1184.2 292.1,1184.2 293.1,1184.2 294.1,1184.2 295.1,1184.2 296.1,1184.2 297.1,1184.2 298.1,1184.2 299.1,1184.2 300.1,1184.2 301.1,1184.2 302.0,1184.2 303.0,1184.2 304.0,1184.2 305.0,1184.2 306.0,1184.2 307.0,1184.2 308.0,1184.2 309.0,1184.2 310.0,1220.5 311.0,1184.2 311.9,1184.2 312.9,1220.5 313.9,1220.5 314.9,1184.2 315.9,1184.2 316.9,1184.2 317.9,1220.5 318.9,1220.5 319.9,1184.2 320.9,1184.2 321.9,1184.2 322.8,1220.5 323.8,1220.5 324.8,1220.5 325.8,1220.5 326.8,1220.5 327.8,1220.5 328.8,1220.5 329.8,1220.5 330.8,1220.5 331.8,1220.5 332.8,1220.5 333.7,1220.5 334.7,1220.5 335.7,1220.5 336.7,1220.5 337.7,1220.5 338.7,1220.5 339.7,1220.5 340.7,1220.5 341.7,1184.2 342.7,1220.5 343.6,1184.2 344.6,1184.2 345.6,1184.2 346.6,1184.2 347.6,1220.5 348.6,1184.2 349.6,1220.5 350.6,1184.2 351.6,1184.2 352.6,1184.2 353.6,1220.5 354.5,1220.5 355.5,1220.5 356.5,1220.5 357.5,1220.5 358.5,1220.5 359.5,1220.5 360.5,1220.5 361.5,1220.5 362.5,1220.5 363.5,1220.5 364.4,1220.5 365.4,1220.5 366.4,1220.5 367.4,1220.5 368.4,1220.5 369.4,1220.5 370.4,1220.5 371.4,1220.5 372.4,1220.5 373.4,1220.5 374.4,1220.5 375.3,1220.5 376.3,1220.5 377.3,1220.5 378.3,1184.2 379.3,1220.5 380.3,1220.5 381.3,1184.2 382.3,1220.5 383.3,1184.2 384.3,1184.2 385.3,1220.5 386.2,1220.5 387.2,1184.2 388.2,1220.5 389.2,1220.5 390.2,1220.5 391.2,1220.5 392.2,1220.5 393.2,1220.5 394.2,1220.5 395.2,1220.5 396.1,1220.5 397.1,1220.5 398.1,1220.5 399.1,1220.5 400.1,1220.5 401.1,1220.5 402.1,1220.5 403.1,1220.5 404.1,1220.5 405.1,1220.5 406.1,1220.5 407.0,1220.5 408.0,1220.5 409.0,1220.5 410.0,1220.5 411.0,1220.5 412.0,1220.5 413.0,1220.5 414.0,1220.5 415.0,1220.5 416.0,1220.5 417.0,1220.5 417.9,1220.5 418.9,1220.5 419.9,1220.5 420.9,1220.5 421.9,1184.2 422.9,1184.2 423.9,1220.5 424.9,1184.2 425.9,1184.2 426.9,1184.2 427.8,1184.2 428.8,1220.5 429.8,1184.2 430.8,1220.5 431.8,1184.2 432.8,1184.2 433.8,1220.5 434.8,1184.2 435.8,1220.5 436.8,1220.5 437.8,1184.2 438.7,1184.2 439.7,1220.5 440.7,1220.5 441.7,1184.2 442.7,1184.2 443.7,1220.5 444.7,1220.5 445.7,1184.2 446.7,1220.5 447.7,1220.5 448.7,1220.5 449.6,1220.5 450.6,1220.5 451.6,1184.2 452.6,1184.2 453.6,1184.2 454.6,1184.2 455.6,1184.2 456.6,1184.2 457.6,1184.2 458.6,1184.2 459.5,1184.2 460.5,1184.2 461.5,1184.2 462.5,1184.2 463.5,1184.2 464.5,1184.2 465.5,1184.2 466.5,1184.2 467.5,1184.2 468.5,1184.2 469.5,1184.2 470.4,1184.2 471.4,1184.2 472.4,1184.2 473.4,1184.2 474.4,1184.2 475.4,1184.2 476.4,1184.2 477.4,1184.2 478.4,1184.2 479.4,1184.2 480.4,1184.2 481.3,1184.2 482.3,1184.2 483.3,1184.2 484.3,1184.2 485.3,1184.2 486.3,1184.2 487.3,1184.2 488.3,1184.2 489.3,1184.2 490.3,1184.2 491.2,1184.2 492.2,1184.2 493.2,1184.2 494.2,1184.2 495.2,1184.2 496.2,1184.2 497.2,1184.2 498.2,1184.2 499.2,1184.2 500.2,1184.2 501.2,1184.2 502.1,1184.2 503.1,1184.2 504.1,1220.5 505.1,1220.5 506.1,1220.5 507.1,1220.5 508.1,1220.5 509.1,1220.5 510.1,1220.5 511.1,1220.5 512.0,1220.5 513.0,1220.5 514.0,1220.5 515.0,1220.5 516.0,1220.5 517.0,1220.5 518.0,1220.5 519.0,1220.5 520.0,1220.5 521.0,1220.5 522.0,1220.5 522.9,1220.5 523.9,1220.5 524.9,1220.5 525.9,1220.5 526.9,1220.5 527.9,1220.5 528.9,1220.5 529.9,1220.5 530.9,1220.5 531.9,1220.5 532.9,1220.5 533.8,1220.5 534.8,1220.5 535.8,1220.5 536.8,1220.5 537.8,1220.5 538.8,1220.5 539.8,1220.5 540.8,1220.5 541.8,1220.5 542.8,1220.5 543.7,1220.5 544.7,1220.5 545.7,1220.5 546.7,1220.5 547.7,1220.5 548.7,1220.5 549.7,1220.5 550.7,1220.5 551.7,1220.5 552.7,1220.5 553.7,1220.5 554.6,1220.5 555.6,1220.5 556.6,1220.5 557.6,1220.5 558.6,1220.5 559.6,1220.5 560.6,1220.5 561.6,1220.5 562.6,1220.5 563.6,1220.5 564.6,1220.5 565.5,1220.5 566.5,1220.5 567.5,1220.5 568.5,1220.5 569.5,1220.5 570.5,1220.5 571.5,1220.5 572.5,1220.5 573.5,1220.5 574.5,1220.5 575.4,1220.5 576.4,1220.5 577.4,1220.5 578.4,1220.5 579.4,1220.5 580.4,1220.5 581.4,1220.5 582.4,1220.5 583.4,1220.5 584.4,1220.5 585.4,1220.5 586.3,1220.5 587.3,1220.5 588.3,1220.5 589.3,1220.5 590.3,1220.5 591.3,1220.5 592.3,1220.5 593.3,1220.5 594.3,1220.5 595.3,1220.5 596.3,1220.5 597.2,1220.5 598.2,1220.5 599.2,1220.5 600.2,1220.5 601.2,1220.5 602.2,1220.5 603.2,1220.5 604.2,1220.5 605.2,1220.5 606.2,1220.5 607.1,1220.5 608.1,1220.5 609.1,1220.5 610.1,1220.5 611.1,1220.5 612.1,1220.5" fill="none" stroke="#61c04a" stroke-width="2.1" stroke-linejoin="round" stroke-dasharray="2.1 7.4"/>
<rect x="97.9" y="834.9" width="534.1" height="467.4" stroke="#141414" fill="none" stroke-width="1.4"/>
<line x1="116.8" y1="1302.3" x2="116.8" y2="1313.5" stroke="#141414" stroke-width="1.4"/>
<text x="116.8" y="1342.6" font-size="18.3" text-anchor="middle" fill="#050505">0</text>
<line x1="215.9" y1="1302.3" x2="215.9" y2="1313.5" stroke="#141414" stroke-width="1.4"/>
<text x="215.9" y="1342.6" font-size="18.3" text-anchor="middle" fill="#050505">100</text>
<line x1="314.9" y1="1302.3" x2="314.9" y2="1313.5" stroke="#141414" stroke-width="1.4"/>
<text x="314.9" y="1342.6" font-size="18.3" text-anchor="middle" fill="#050505">200</text>
<line x1="414.0" y1="1302.3" x2="414.0" y2="1313.5" stroke="#141414" stroke-width="1.4"/>
<text x="414.0" y="1342.6" font-size="18.3" text-anchor="middle" fill="#050505">300</text>
<line x1="513.0" y1="1302.3" x2="513.0" y2="1313.5" stroke="#141414" stroke-width="1.4"/>
<text x="513.0" y="1342.6" font-size="18.3" text-anchor="middle" fill="#050505">400</text>
<line x1="612.1" y1="1302.3" x2="612.1" y2="1313.5" stroke="#141414" stroke-width="1.4"/>
<text x="612.1" y="1342.6" font-size="18.3" text-anchor="middle" fill="#050505">500</text>
<line x1="86.7" y1="1300.5" x2="97.9" y2="1300.5" stroke="#141414" stroke-width="1.4"/>
<text x="69.6" y="1300.5" font-size="18.3" text-anchor="middle" fill="#050505" transform="rotate(-90 69.6 1300.5)">0.10</text>
<line x1="86.7" y1="1231.5" x2="97.9" y2="1231.5" stroke="#141414" stroke-width="1.4"/>
<text x="69.6" y="1231.5" font-size="18.3" text-anchor="middle" fill="#050505" transform="rotate(-90 69.6 1231.5)">0.15</text>
<line x1="86.7" y1="1162.4" x2="97.9" y2="1162.4" stroke="#141414" stroke-width="1.4"/>
<text x="69.6" y="1162.4" font-size="18.3" text-anchor="middle" fill="#050505" transform="rotate(-90 69.6 1162.4)">0.20</text>
<line x1="86.7" y1="1093.4" x2="97.9" y2="1093.4" stroke="#141414" stroke-width="1.4"/>
<text x="69.6" y="1093.4" font-size="18.3" text-anchor="middle" fill="#050505" transform="rotate(-90 69.6 1093.4)">0.25</text>
<line x1="86.7" y1="1024.3" x2="97.9" y2="1024.3" stroke="#141414" stroke-width="1.4"/>
<text x="69.6" y="1024.3" font-size="18.3" text-anchor="middle" fill="#050505" transform="rotate(-90 69.6 1024.3)">0.30</text>
<line x1="86.7" y1="955.3" x2="97.9" y2="955.3" stroke="#141414" stroke-width="1.4"/>
<text x="69.6" y="955.3" font-size="18.3" text-anchor="middle" fill="#050505" transform="rotate(-90 69.6 955.3)">0.35</text>
<line x1="86.7" y1="886.2" x2="97.9" y2="886.2" stroke="#141414" stroke-width="1.4"/>
<text x="69.6" y="886.2" font-size="18.3" text-anchor="middle" fill="#050505" transform="rotate(-90 69.6 886.2)">0.40</text>
<text x="24.8" y="1068.4" font-size="18.3" text-anchor="middle" fill="#050505" transform="rotate(-90 24.8 1068.4)">Error</text>
<text x="364.6" y="1387.3" font-size="18.3" text-anchor="middle" fill="#050505">trees</text>
<line x1="752.6" y1="832.4" x2="1184.9" y2="832.4" stroke="#c9c9c9" stroke-width="1" stroke-dasharray="1 3.2"/>
<circle cx="1171.2" cy="832.4" r="3.7" fill="#fff" stroke="#111" stroke-width="1.3"/>
<text x="667.8" y="837.9" font-size="16.3" fill="#050505">BCL6</text>
<line x1="752.6" y1="848.8" x2="1184.9" y2="848.8" stroke="#c9c9c9" stroke-width="1" stroke-dasharray="1 3.2"/>
<circle cx="993.2" cy="848.8" r="3.7" fill="#fff" stroke="#111" stroke-width="1.3"/>
<text x="667.8" y="854.3" font-size="16.3" fill="#050505">VEGFA</text>
<line x1="752.6" y1="865.2" x2="1184.9" y2="865.2" stroke="#c9c9c9" stroke-width="1" stroke-dasharray="1 3.2"/>
<circle cx="922.8" cy="865.2" r="3.7" fill="#fff" stroke="#111" stroke-width="1.3"/>
<text x="667.8" y="870.7" font-size="16.3" fill="#050505">MYC</text>
<line x1="752.6" y1="881.6" x2="1184.9" y2="881.6" stroke="#c9c9c9" stroke-width="1" stroke-dasharray="1 3.2"/>
<circle cx="916.9" cy="881.6" r="3.7" fill="#fff" stroke="#111" stroke-width="1.3"/>
<text x="667.8" y="887.1" font-size="16.3" fill="#050505">PIM1</text>
<line x1="752.6" y1="898.1" x2="1184.9" y2="898.1" stroke="#c9c9c9" stroke-width="1" stroke-dasharray="1 3.2"/>
<circle cx="907.9" cy="898.1" r="3.7" fill="#fff" stroke="#111" stroke-width="1.3"/>
<text x="667.8" y="903.6" font-size="16.3" fill="#050505">EPHA3</text>
<line x1="752.6" y1="914.5" x2="1184.9" y2="914.5" stroke="#c9c9c9" stroke-width="1" stroke-dasharray="1 3.2"/>
<circle cx="887.7" cy="914.5" r="3.7" fill="#fff" stroke="#111" stroke-width="1.3"/>
<text x="667.8" y="920.0" font-size="16.3" fill="#050505">CEBPB</text>
<line x1="752.6" y1="930.9" x2="1184.9" y2="930.9" stroke="#c9c9c9" stroke-width="1" stroke-dasharray="1 3.2"/>
<circle cx="878.7" cy="930.9" r="3.7" fill="#fff" stroke="#111" stroke-width="1.3"/>
<text x="667.8" y="936.4" font-size="16.3" fill="#050505">ARPC1B</text>
<line x1="752.6" y1="947.3" x2="1184.9" y2="947.3" stroke="#c9c9c9" stroke-width="1" stroke-dasharray="1 3.2"/>
<circle cx="877.7" cy="947.3" r="3.7" fill="#fff" stroke="#111" stroke-width="1.3"/>
<text x="667.8" y="952.8" font-size="16.3" fill="#050505">HK3</text>
<line x1="752.6" y1="963.7" x2="1184.9" y2="963.7" stroke="#c9c9c9" stroke-width="1" stroke-dasharray="1 3.2"/>
<circle cx="877.7" cy="963.7" r="3.7" fill="#fff" stroke="#111" stroke-width="1.3"/>
<text x="667.8" y="969.2" font-size="16.3" fill="#050505">MCL1</text>
<line x1="752.6" y1="980.1" x2="1184.9" y2="980.1" stroke="#c9c9c9" stroke-width="1" stroke-dasharray="1 3.2"/>
<circle cx="868.3" cy="980.1" r="3.7" fill="#fff" stroke="#111" stroke-width="1.3"/>
<text x="667.8" y="985.6" font-size="16.3" fill="#050505">ZFP36</text>
<line x1="752.6" y1="996.5" x2="1184.9" y2="996.5" stroke="#c9c9c9" stroke-width="1" stroke-dasharray="1 3.2"/>
<circle cx="865.9" cy="996.5" r="3.7" fill="#fff" stroke="#111" stroke-width="1.3"/>
<text x="667.8" y="1002.0" font-size="16.3" fill="#050505">TLR3</text>
<line x1="752.6" y1="1013.0" x2="1184.9" y2="1013.0" stroke="#c9c9c9" stroke-width="1" stroke-dasharray="1 3.2"/>
<circle cx="851.7" cy="1013.0" r="3.7" fill="#fff" stroke="#111" stroke-width="1.3"/>
<text x="667.8" y="1018.5" font-size="16.3" fill="#050505">SLC16A7</text>
<line x1="752.6" y1="1029.4" x2="1184.9" y2="1029.4" stroke="#c9c9c9" stroke-width="1" stroke-dasharray="1 3.2"/>
<circle cx="844.7" cy="1029.4" r="3.7" fill="#fff" stroke="#111" stroke-width="1.3"/>
<text x="667.8" y="1034.9" font-size="16.3" fill="#050505">SOCS1</text>
<line x1="752.6" y1="1045.8" x2="1184.9" y2="1045.8" stroke="#c9c9c9" stroke-width="1" stroke-dasharray="1 3.2"/>
<circle cx="837.4" cy="1045.8" r="3.7" fill="#fff" stroke="#111" stroke-width="1.3"/>
<text x="667.8" y="1051.3" font-size="16.3" fill="#050505">RAF1</text>
<line x1="752.6" y1="1062.2" x2="1184.9" y2="1062.2" stroke="#c9c9c9" stroke-width="1" stroke-dasharray="1 3.2"/>
<circle cx="833.6" cy="1062.2" r="3.7" fill="#fff" stroke="#111" stroke-width="1.3"/>
<text x="667.8" y="1067.7" font-size="16.3" fill="#050505">POT1</text>
<line x1="752.6" y1="1078.6" x2="1184.9" y2="1078.6" stroke="#c9c9c9" stroke-width="1" stroke-dasharray="1 3.2"/>
<circle cx="832.2" cy="1078.6" r="3.7" fill="#fff" stroke="#111" stroke-width="1.3"/>
<text x="667.8" y="1084.1" font-size="16.3" fill="#050505">TOP1</text>
<line x1="752.6" y1="1095.0" x2="1184.9" y2="1095.0" stroke="#c9c9c9" stroke-width="1" stroke-dasharray="1 3.2"/>
<circle cx="831.2" cy="1095.0" r="3.7" fill="#fff" stroke="#111" stroke-width="1.3"/>
<text x="667.8" y="1100.5" font-size="16.3" fill="#050505">NEK4</text>
<line x1="752.6" y1="1111.4" x2="1184.9" y2="1111.4" stroke="#c9c9c9" stroke-width="1" stroke-dasharray="1 3.2"/>
<circle cx="830.5" cy="1111.4" r="3.7" fill="#fff" stroke="#111" stroke-width="1.3"/>
<text x="667.8" y="1116.9" font-size="16.3" fill="#050505">MMP9</text>
<line x1="752.6" y1="1127.9" x2="1184.9" y2="1127.9" stroke="#c9c9c9" stroke-width="1" stroke-dasharray="1 3.2"/>
<circle cx="825.6" cy="1127.9" r="3.7" fill="#fff" stroke="#111" stroke-width="1.3"/>
<text x="667.8" y="1133.4" font-size="16.3" fill="#050505">CCND1</text>
<line x1="752.6" y1="1144.3" x2="1184.9" y2="1144.3" stroke="#c9c9c9" stroke-width="1" stroke-dasharray="1 3.2"/>
<circle cx="824.9" cy="1144.3" r="3.7" fill="#fff" stroke="#111" stroke-width="1.3"/>
<text x="667.8" y="1149.8" font-size="16.3" fill="#050505">TFDP1</text>
<line x1="752.6" y1="1160.7" x2="1184.9" y2="1160.7" stroke="#c9c9c9" stroke-width="1" stroke-dasharray="1 3.2"/>
<circle cx="822.9" cy="1160.7" r="3.7" fill="#fff" stroke="#111" stroke-width="1.3"/>
<text x="667.8" y="1166.2" font-size="16.3" fill="#050505">FXR1</text>
<line x1="752.6" y1="1177.1" x2="1184.9" y2="1177.1" stroke="#c9c9c9" stroke-width="1" stroke-dasharray="1 3.2"/>
<circle cx="821.5" cy="1177.1" r="3.7" fill="#fff" stroke="#111" stroke-width="1.3"/>
<text x="667.8" y="1182.6" font-size="16.3" fill="#050505">ALOX15B</text>
<line x1="752.6" y1="1193.5" x2="1184.9" y2="1193.5" stroke="#c9c9c9" stroke-width="1" stroke-dasharray="1 3.2"/>
<circle cx="818.3" cy="1193.5" r="3.7" fill="#fff" stroke="#111" stroke-width="1.3"/>
<text x="667.8" y="1199.0" font-size="16.3" fill="#050505">EWSR1</text>
<line x1="752.6" y1="1209.9" x2="1184.9" y2="1209.9" stroke="#c9c9c9" stroke-width="1" stroke-dasharray="1 3.2"/>
<circle cx="818.3" cy="1209.9" r="3.7" fill="#fff" stroke="#111" stroke-width="1.3"/>
<text x="667.8" y="1215.4" font-size="16.3" fill="#050505">HMGB1</text>
<line x1="752.6" y1="1226.3" x2="1184.9" y2="1226.3" stroke="#c9c9c9" stroke-width="1" stroke-dasharray="1 3.2"/>
<circle cx="816.6" cy="1226.3" r="3.7" fill="#fff" stroke="#111" stroke-width="1.3"/>
<text x="667.8" y="1231.8" font-size="16.3" fill="#050505">ETS2</text>
<line x1="752.6" y1="1242.8" x2="1184.9" y2="1242.8" stroke="#c9c9c9" stroke-width="1" stroke-dasharray="1 3.2"/>
<circle cx="815.9" cy="1242.8" r="3.7" fill="#fff" stroke="#111" stroke-width="1.3"/>
<text x="667.8" y="1248.2" font-size="16.3" fill="#050505">NUAK1</text>
<line x1="752.6" y1="1259.2" x2="1184.9" y2="1259.2" stroke="#c9c9c9" stroke-width="1" stroke-dasharray="1 3.2"/>
<circle cx="808.6" cy="1259.2" r="3.7" fill="#fff" stroke="#111" stroke-width="1.3"/>
<text x="667.8" y="1264.7" font-size="16.3" fill="#050505">CDKN1C</text>
<line x1="752.6" y1="1275.6" x2="1184.9" y2="1275.6" stroke="#c9c9c9" stroke-width="1" stroke-dasharray="1 3.2"/>
<circle cx="807.6" cy="1275.6" r="3.7" fill="#fff" stroke="#111" stroke-width="1.3"/>
<text x="667.8" y="1281.1" font-size="16.3" fill="#050505">SUPT5H</text>
<line x1="752.6" y1="1292.0" x2="1184.9" y2="1292.0" stroke="#c9c9c9" stroke-width="1" stroke-dasharray="1 3.2"/>
<circle cx="807.2" cy="1292.0" r="3.7" fill="#fff" stroke="#111" stroke-width="1.3"/>
<text x="667.8" y="1297.5" font-size="16.3" fill="#050505">HSPA5</text>
<line x1="752.6" y1="1308.4" x2="1184.9" y2="1308.4" stroke="#c9c9c9" stroke-width="1" stroke-dasharray="1 3.2"/>
<circle cx="807.2" cy="1308.4" r="3.7" fill="#fff" stroke="#111" stroke-width="1.3"/>
<text x="667.8" y="1313.9" font-size="16.3" fill="#050505">ITPKB</text>
<rect x="749.6" y="815.4" width="438.2" height="508.7" stroke="#141414" fill="none" stroke-width="1.35"/>
<line x1="765.6" y1="1324.0" x2="765.6" y2="1332.8" stroke="#141414" stroke-width="1.35"/>
<text x="765.6" y="1360.8" font-size="16.3" text-anchor="middle" fill="#050505">0</text>
<line x1="874.3" y1="1324.0" x2="874.3" y2="1332.8" stroke="#141414" stroke-width="1.35"/>
<text x="874.3" y="1360.8" font-size="16.3" text-anchor="middle" fill="#050505">1</text>
<line x1="983.0" y1="1324.0" x2="983.0" y2="1332.8" stroke="#141414" stroke-width="1.35"/>
<text x="983.0" y="1360.8" font-size="16.3" text-anchor="middle" fill="#050505">2</text>
<line x1="1091.7" y1="1324.0" x2="1091.7" y2="1332.8" stroke="#141414" stroke-width="1.35"/>
<text x="1091.7" y="1360.8" font-size="16.3" text-anchor="middle" fill="#050505">3</text>
<text x="968.6" y="1399.2" font-size="16.3" text-anchor="middle" fill="#050505">MeanDecreaseGini</text>
<text x="1224.6" y="867.6" font-size="18.8" fill="#050505">Points</text>
<text x="1224.6" y="975.8" font-size="18.8" fill="#050505">BCL6</text>
<text x="1224.6" y="1084.0" font-size="18.8" fill="#050505">VEGFA</text>
<text x="1224.6" y="1192.1" font-size="18.8" fill="#050505">Total Points</text>
<text x="1224.6" y="1300.3" font-size="18.8" fill="#050505">Risk of Disease</text>
<line x1="1423.2" y1="861.1" x2="1989.7" y2="861.1" stroke="#141414" stroke-width="1.25"/>
<line x1="1423.2" y1="854.3" x2="1423.2" y2="861.1" stroke="#141414" stroke-width="1.25"/>
<text x="1423.2" y="848.1" font-size="15.3" text-anchor="middle" fill="#050505">0</text>
<line x1="1437.4" y1="857.5" x2="1437.4" y2="861.1" stroke="#141414" stroke-width="1.25"/>
<line x1="1451.6" y1="857.5" x2="1451.6" y2="861.1" stroke="#141414" stroke-width="1.25"/>
<line x1="1465.7" y1="857.5" x2="1465.7" y2="861.1" stroke="#141414" stroke-width="1.25"/>
<line x1="1479.9" y1="854.3" x2="1479.9" y2="861.1" stroke="#141414" stroke-width="1.25"/>
<text x="1479.9" y="848.1" font-size="15.3" text-anchor="middle" fill="#050505">10</text>
<line x1="1494.0" y1="857.5" x2="1494.0" y2="861.1" stroke="#141414" stroke-width="1.25"/>
<line x1="1508.2" y1="857.5" x2="1508.2" y2="861.1" stroke="#141414" stroke-width="1.25"/>
<line x1="1522.4" y1="857.5" x2="1522.4" y2="861.1" stroke="#141414" stroke-width="1.25"/>
<line x1="1536.5" y1="854.3" x2="1536.5" y2="861.1" stroke="#141414" stroke-width="1.25"/>
<text x="1536.5" y="848.1" font-size="15.3" text-anchor="middle" fill="#050505">20</text>
<line x1="1550.7" y1="857.5" x2="1550.7" y2="861.1" stroke="#141414" stroke-width="1.25"/>
<line x1="1564.8" y1="857.5" x2="1564.8" y2="861.1" stroke="#141414" stroke-width="1.25"/>
<line x1="1579.0" y1="857.5" x2="1579.0" y2="861.1" stroke="#141414" stroke-width="1.25"/>
<line x1="1593.2" y1="854.3" x2="1593.2" y2="861.1" stroke="#141414" stroke-width="1.25"/>
<text x="1593.2" y="848.1" font-size="15.3" text-anchor="middle" fill="#050505">30</text>
<line x1="1607.3" y1="857.5" x2="1607.3" y2="861.1" stroke="#141414" stroke-width="1.25"/>
<line x1="1621.5" y1="857.5" x2="1621.5" y2="861.1" stroke="#141414" stroke-width="1.25"/>
<line x1="1635.6" y1="857.5" x2="1635.6" y2="861.1" stroke="#141414" stroke-width="1.25"/>
<line x1="1649.8" y1="854.3" x2="1649.8" y2="861.1" stroke="#141414" stroke-width="1.25"/>
<text x="1649.8" y="848.1" font-size="15.3" text-anchor="middle" fill="#050505">40</text>
<line x1="1664.0" y1="857.5" x2="1664.0" y2="861.1" stroke="#141414" stroke-width="1.25"/>
<line x1="1678.1" y1="857.5" x2="1678.1" y2="861.1" stroke="#141414" stroke-width="1.25"/>
<line x1="1692.3" y1="857.5" x2="1692.3" y2="861.1" stroke="#141414" stroke-width="1.25"/>
<line x1="1706.4" y1="854.3" x2="1706.4" y2="861.1" stroke="#141414" stroke-width="1.25"/>
<text x="1706.4" y="848.1" font-size="15.3" text-anchor="middle" fill="#050505">50</text>
<line x1="1720.6" y1="857.5" x2="1720.6" y2="861.1" stroke="#141414" stroke-width="1.25"/>
<line x1="1734.8" y1="857.5" x2="1734.8" y2="861.1" stroke="#141414" stroke-width="1.25"/>
<line x1="1748.9" y1="857.5" x2="1748.9" y2="861.1" stroke="#141414" stroke-width="1.25"/>
<line x1="1763.1" y1="854.3" x2="1763.1" y2="861.1" stroke="#141414" stroke-width="1.25"/>
<text x="1763.1" y="848.1" font-size="15.3" text-anchor="middle" fill="#050505">60</text>
<line x1="1777.2" y1="857.5" x2="1777.2" y2="861.1" stroke="#141414" stroke-width="1.25"/>
<line x1="1791.4" y1="857.5" x2="1791.4" y2="861.1" stroke="#141414" stroke-width="1.25"/>
<line x1="1805.6" y1="857.5" x2="1805.6" y2="861.1" stroke="#141414" stroke-width="1.25"/>
<line x1="1819.7" y1="854.3" x2="1819.7" y2="861.1" stroke="#141414" stroke-width="1.25"/>
<text x="1819.7" y="848.1" font-size="15.3" text-anchor="middle" fill="#050505">70</text>
<line x1="1833.9" y1="857.5" x2="1833.9" y2="861.1" stroke="#141414" stroke-width="1.25"/>
<line x1="1848.0" y1="857.5" x2="1848.0" y2="861.1" stroke="#141414" stroke-width="1.25"/>
<line x1="1862.2" y1="857.5" x2="1862.2" y2="861.1" stroke="#141414" stroke-width="1.25"/>
<line x1="1876.4" y1="854.3" x2="1876.4" y2="861.1" stroke="#141414" stroke-width="1.25"/>
<text x="1876.4" y="848.1" font-size="15.3" text-anchor="middle" fill="#050505">80</text>
<line x1="1890.5" y1="857.5" x2="1890.5" y2="861.1" stroke="#141414" stroke-width="1.25"/>
<line x1="1904.7" y1="857.5" x2="1904.7" y2="861.1" stroke="#141414" stroke-width="1.25"/>
<line x1="1918.9" y1="857.5" x2="1918.9" y2="861.1" stroke="#141414" stroke-width="1.25"/>
<line x1="1933.0" y1="854.3" x2="1933.0" y2="861.1" stroke="#141414" stroke-width="1.25"/>
<text x="1933.0" y="848.1" font-size="15.3" text-anchor="middle" fill="#050505">90</text>
<line x1="1947.2" y1="857.5" x2="1947.2" y2="861.1" stroke="#141414" stroke-width="1.25"/>
<line x1="1961.3" y1="857.5" x2="1961.3" y2="861.1" stroke="#141414" stroke-width="1.25"/>
<line x1="1975.5" y1="857.5" x2="1975.5" y2="861.1" stroke="#141414" stroke-width="1.25"/>
<line x1="1989.7" y1="854.3" x2="1989.7" y2="861.1" stroke="#141414" stroke-width="1.25"/>
<text x="1989.7" y="848.1" font-size="15.3" text-anchor="middle" fill="#050505">100</text>
<line x1="1423.2" y1="969.3" x2="1989.7" y2="969.3" stroke="#141414" stroke-width="1.25"/>
<line x1="1423.2" y1="969.3" x2="1423.2" y2="975.6" stroke="#141414" stroke-width="1.25"/>
<text x="1423.2" y="993.5" font-size="15.3" text-anchor="middle" fill="#050505">10.6</text>
<line x1="1466.8" y1="969.3" x2="1466.8" y2="975.6" stroke="#141414" stroke-width="1.25"/>
<text x="1466.8" y="993.5" font-size="15.3" text-anchor="middle" fill="#050505">10.4</text>
<line x1="1510.4" y1="969.3" x2="1510.4" y2="975.6" stroke="#141414" stroke-width="1.25"/>
<text x="1510.4" y="993.5" font-size="15.3" text-anchor="middle" fill="#050505">10.2</text>
<line x1="1553.9" y1="969.3" x2="1553.9" y2="975.6" stroke="#141414" stroke-width="1.25"/>
<text x="1553.9" y="993.5" font-size="15.3" text-anchor="middle" fill="#050505">10</text>
<line x1="1597.5" y1="969.3" x2="1597.5" y2="975.6" stroke="#141414" stroke-width="1.25"/>
<text x="1597.5" y="993.5" font-size="15.3" text-anchor="middle" fill="#050505">9.8</text>
<line x1="1641.1" y1="969.3" x2="1641.1" y2="975.6" stroke="#141414" stroke-width="1.25"/>
<text x="1641.1" y="993.5" font-size="15.3" text-anchor="middle" fill="#050505">9.6</text>
<line x1="1684.7" y1="969.3" x2="1684.7" y2="975.6" stroke="#141414" stroke-width="1.25"/>
<text x="1684.7" y="993.5" font-size="15.3" text-anchor="middle" fill="#050505">9.4</text>
<line x1="1728.2" y1="969.3" x2="1728.2" y2="975.6" stroke="#141414" stroke-width="1.25"/>
<text x="1728.2" y="993.5" font-size="15.3" text-anchor="middle" fill="#050505">9.2</text>
<line x1="1771.8" y1="969.3" x2="1771.8" y2="975.6" stroke="#141414" stroke-width="1.25"/>
<text x="1771.8" y="993.5" font-size="15.3" text-anchor="middle" fill="#050505">9</text>
<line x1="1815.4" y1="969.3" x2="1815.4" y2="975.6" stroke="#141414" stroke-width="1.25"/>
<text x="1815.4" y="993.5" font-size="15.3" text-anchor="middle" fill="#050505">8.8</text>
<line x1="1858.9" y1="969.3" x2="1858.9" y2="975.6" stroke="#141414" stroke-width="1.25"/>
<text x="1858.9" y="993.5" font-size="15.3" text-anchor="middle" fill="#050505">8.6</text>
<line x1="1902.5" y1="969.3" x2="1902.5" y2="975.6" stroke="#141414" stroke-width="1.25"/>
<text x="1902.5" y="993.5" font-size="15.3" text-anchor="middle" fill="#050505">8.4</text>
<line x1="1946.1" y1="969.3" x2="1946.1" y2="975.6" stroke="#141414" stroke-width="1.25"/>
<text x="1946.1" y="993.5" font-size="15.3" text-anchor="middle" fill="#050505">8.2</text>
<line x1="1989.7" y1="969.3" x2="1989.7" y2="975.6" stroke="#141414" stroke-width="1.25"/>
<text x="1989.7" y="993.5" font-size="15.3" text-anchor="middle" fill="#050505">8</text>
<line x1="1423.2" y1="1077.5" x2="1869.8" y2="1077.5" stroke="#141414" stroke-width="1.25"/>
<line x1="1423.2" y1="1077.5" x2="1423.2" y2="1083.8" stroke="#141414" stroke-width="1.25"/>
<text x="1423.2" y="1101.7" font-size="15.3" text-anchor="middle" fill="#050505">10.5</text>
<line x1="1467.9" y1="1077.5" x2="1467.9" y2="1083.8" stroke="#141414" stroke-width="1.25"/>
<text x="1467.9" y="1101.7" font-size="15.3" text-anchor="middle" fill="#050505">10</text>
<line x1="1512.5" y1="1077.5" x2="1512.5" y2="1083.8" stroke="#141414" stroke-width="1.25"/>
<text x="1512.5" y="1101.7" font-size="15.3" text-anchor="middle" fill="#050505">9.5</text>
<line x1="1557.2" y1="1077.5" x2="1557.2" y2="1083.8" stroke="#141414" stroke-width="1.25"/>
<text x="1557.2" y="1101.7" font-size="15.3" text-anchor="middle" fill="#050505">9</text>
<line x1="1601.9" y1="1077.5" x2="1601.9" y2="1083.8" stroke="#141414" stroke-width="1.25"/>
<text x="1601.9" y="1101.7" font-size="15.3" text-anchor="middle" fill="#050505">8.5</text>
<line x1="1646.5" y1="1077.5" x2="1646.5" y2="1083.8" stroke="#141414" stroke-width="1.25"/>
<text x="1646.5" y="1101.7" font-size="15.3" text-anchor="middle" fill="#050505">8</text>
<line x1="1691.2" y1="1077.5" x2="1691.2" y2="1083.8" stroke="#141414" stroke-width="1.25"/>
<text x="1691.2" y="1101.7" font-size="15.3" text-anchor="middle" fill="#050505">7.5</text>
<line x1="1735.8" y1="1077.5" x2="1735.8" y2="1083.8" stroke="#141414" stroke-width="1.25"/>
<text x="1735.8" y="1101.7" font-size="15.3" text-anchor="middle" fill="#050505">7</text>
<line x1="1780.5" y1="1077.5" x2="1780.5" y2="1083.8" stroke="#141414" stroke-width="1.25"/>
<text x="1780.5" y="1101.7" font-size="15.3" text-anchor="middle" fill="#050505">6.5</text>
<line x1="1825.1" y1="1077.5" x2="1825.1" y2="1083.8" stroke="#141414" stroke-width="1.25"/>
<text x="1825.1" y="1101.7" font-size="15.3" text-anchor="middle" fill="#050505">6</text>
<line x1="1869.8" y1="1077.5" x2="1869.8" y2="1083.8" stroke="#141414" stroke-width="1.25"/>
<text x="1869.8" y="1101.7" font-size="15.3" text-anchor="middle" fill="#050505">5.5</text>
<line x1="1423.2" y1="1185.6" x2="1989.7" y2="1185.6" stroke="#141414" stroke-width="1.25"/>
<line x1="1423.2" y1="1185.6" x2="1423.2" y2="1191.9" stroke="#141414" stroke-width="1.25"/>
<text x="1423.2" y="1209.9" font-size="15.3" text-anchor="middle" fill="#050505">0</text>
<line x1="1435.8" y1="1185.6" x2="1435.8" y2="1188.9" stroke="#141414" stroke-width="1.25"/>
<line x1="1448.4" y1="1185.6" x2="1448.4" y2="1188.9" stroke="#141414" stroke-width="1.25"/>
<line x1="1461.0" y1="1185.6" x2="1461.0" y2="1188.9" stroke="#141414" stroke-width="1.25"/>
<line x1="1473.6" y1="1185.6" x2="1473.6" y2="1188.9" stroke="#141414" stroke-width="1.25"/>
<line x1="1486.2" y1="1185.6" x2="1486.2" y2="1191.9" stroke="#141414" stroke-width="1.25"/>
<text x="1486.2" y="1209.9" font-size="15.3" text-anchor="middle" fill="#050505">20</text>
<line x1="1498.8" y1="1185.6" x2="1498.8" y2="1188.9" stroke="#141414" stroke-width="1.25"/>
<line x1="1511.3" y1="1185.6" x2="1511.3" y2="1188.9" stroke="#141414" stroke-width="1.25"/>
<line x1="1523.9" y1="1185.6" x2="1523.9" y2="1188.9" stroke="#141414" stroke-width="1.25"/>
<line x1="1536.5" y1="1185.6" x2="1536.5" y2="1188.9" stroke="#141414" stroke-width="1.25"/>
<line x1="1549.1" y1="1185.6" x2="1549.1" y2="1191.9" stroke="#141414" stroke-width="1.25"/>
<text x="1549.1" y="1209.9" font-size="15.3" text-anchor="middle" fill="#050505">40</text>
<line x1="1561.7" y1="1185.6" x2="1561.7" y2="1188.9" stroke="#141414" stroke-width="1.25"/>
<line x1="1574.3" y1="1185.6" x2="1574.3" y2="1188.9" stroke="#141414" stroke-width="1.25"/>
<line x1="1586.9" y1="1185.6" x2="1586.9" y2="1188.9" stroke="#141414" stroke-width="1.25"/>
<line x1="1599.5" y1="1185.6" x2="1599.5" y2="1188.9" stroke="#141414" stroke-width="1.25"/>
<line x1="1612.0" y1="1185.6" x2="1612.0" y2="1191.9" stroke="#141414" stroke-width="1.25"/>
<text x="1612.0" y="1209.9" font-size="15.3" text-anchor="middle" fill="#050505">60</text>
<line x1="1624.6" y1="1185.6" x2="1624.6" y2="1188.9" stroke="#141414" stroke-width="1.25"/>
<line x1="1637.2" y1="1185.6" x2="1637.2" y2="1188.9" stroke="#141414" stroke-width="1.25"/>
<line x1="1649.8" y1="1185.6" x2="1649.8" y2="1188.9" stroke="#141414" stroke-width="1.25"/>
<line x1="1662.4" y1="1185.6" x2="1662.4" y2="1188.9" stroke="#141414" stroke-width="1.25"/>
<line x1="1675.0" y1="1185.6" x2="1675.0" y2="1191.9" stroke="#141414" stroke-width="1.25"/>
<text x="1675.0" y="1209.9" font-size="15.3" text-anchor="middle" fill="#050505">80</text>
<line x1="1687.6" y1="1185.6" x2="1687.6" y2="1188.9" stroke="#141414" stroke-width="1.25"/>
<line x1="1700.1" y1="1185.6" x2="1700.1" y2="1188.9" stroke="#141414" stroke-width="1.25"/>
<line x1="1712.7" y1="1185.6" x2="1712.7" y2="1188.9" stroke="#141414" stroke-width="1.25"/>
<line x1="1725.3" y1="1185.6" x2="1725.3" y2="1188.9" stroke="#141414" stroke-width="1.25"/>
<line x1="1737.9" y1="1185.6" x2="1737.9" y2="1191.9" stroke="#141414" stroke-width="1.25"/>
<text x="1737.9" y="1209.9" font-size="15.3" text-anchor="middle" fill="#050505">100</text>
<line x1="1750.5" y1="1185.6" x2="1750.5" y2="1188.9" stroke="#141414" stroke-width="1.25"/>
<line x1="1763.1" y1="1185.6" x2="1763.1" y2="1188.9" stroke="#141414" stroke-width="1.25"/>
<line x1="1775.7" y1="1185.6" x2="1775.7" y2="1188.9" stroke="#141414" stroke-width="1.25"/>
<line x1="1788.3" y1="1185.6" x2="1788.3" y2="1188.9" stroke="#141414" stroke-width="1.25"/>
<line x1="1800.8" y1="1185.6" x2="1800.8" y2="1191.9" stroke="#141414" stroke-width="1.25"/>
<text x="1800.8" y="1209.9" font-size="15.3" text-anchor="middle" fill="#050505">120</text>
<line x1="1813.4" y1="1185.6" x2="1813.4" y2="1188.9" stroke="#141414" stroke-width="1.25"/>
<line x1="1826.0" y1="1185.6" x2="1826.0" y2="1188.9" stroke="#141414" stroke-width="1.25"/>
<line x1="1838.6" y1="1185.6" x2="1838.6" y2="1188.9" stroke="#141414" stroke-width="1.25"/>
<line x1="1851.2" y1="1185.6" x2="1851.2" y2="1188.9" stroke="#141414" stroke-width="1.25"/>
<line x1="1863.8" y1="1185.6" x2="1863.8" y2="1191.9" stroke="#141414" stroke-width="1.25"/>
<text x="1863.8" y="1209.9" font-size="15.3" text-anchor="middle" fill="#050505">140</text>
<line x1="1876.4" y1="1185.6" x2="1876.4" y2="1188.9" stroke="#141414" stroke-width="1.25"/>
<line x1="1889.0" y1="1185.6" x2="1889.0" y2="1188.9" stroke="#141414" stroke-width="1.25"/>
<line x1="1901.5" y1="1185.6" x2="1901.5" y2="1188.9" stroke="#141414" stroke-width="1.25"/>
<line x1="1914.1" y1="1185.6" x2="1914.1" y2="1188.9" stroke="#141414" stroke-width="1.25"/>
<line x1="1926.7" y1="1185.6" x2="1926.7" y2="1191.9" stroke="#141414" stroke-width="1.25"/>
<text x="1926.7" y="1209.9" font-size="15.3" text-anchor="middle" fill="#050505">160</text>
<line x1="1939.3" y1="1185.6" x2="1939.3" y2="1188.9" stroke="#141414" stroke-width="1.25"/>
<line x1="1951.9" y1="1185.6" x2="1951.9" y2="1188.9" stroke="#141414" stroke-width="1.25"/>
<line x1="1964.5" y1="1185.6" x2="1964.5" y2="1188.9" stroke="#141414" stroke-width="1.25"/>
<line x1="1977.1" y1="1185.6" x2="1977.1" y2="1188.9" stroke="#141414" stroke-width="1.25"/>
<line x1="1989.7" y1="1185.6" x2="1989.7" y2="1191.9" stroke="#141414" stroke-width="1.25"/>
<text x="1989.7" y="1209.9" font-size="15.3" text-anchor="middle" fill="#050505">180</text>
<line x1="1615.8" y1="1293.8" x2="1968.5" y2="1293.8" stroke="#141414" stroke-width="1.25"/>
<line x1="1615.8" y1="1293.8" x2="1615.8" y2="1300.1" stroke="#141414" stroke-width="1.25"/>
<text x="1615.8" y="1317.6" font-size="15.3" text-anchor="middle" fill="#050505">0.1</text>
<line x1="1685.9" y1="1293.8" x2="1685.9" y2="1300.1" stroke="#141414" stroke-width="1.25"/>
<text x="1685.9" y="1317.6" font-size="15.3" text-anchor="middle" fill="#050505">0.3</text>
<line x1="1730.0" y1="1293.8" x2="1730.0" y2="1300.1" stroke="#141414" stroke-width="1.25"/>
<text x="1730.0" y="1317.6" font-size="15.3" text-anchor="middle" fill="#050505">0.5</text>
<line x1="1774.2" y1="1293.8" x2="1774.2" y2="1300.1" stroke="#141414" stroke-width="1.25"/>
<text x="1774.2" y="1317.6" font-size="15.3" text-anchor="middle" fill="#050505">0.7</text>
<line x1="1843.8" y1="1293.8" x2="1843.8" y2="1300.1" stroke="#141414" stroke-width="1.25"/>
<text x="1843.8" y="1317.6" font-size="15.3" text-anchor="middle" fill="#050505">0.9</text>
<line x1="1968.5" y1="1293.8" x2="1968.5" y2="1300.1" stroke="#141414" stroke-width="1.25"/>
<text x="1968.5" y="1317.6" font-size="15.3" text-anchor="middle" fill="#050505">0.99</text>
<line x1="117.8" y1="1504.2" x2="117.8" y2="1512.7" stroke="#9a9a9a" stroke-width="0.9"/>
<line x1="126.1" y1="1504.2" x2="126.1" y2="1512.7" stroke="#9a9a9a" stroke-width="0.9"/>
<line x1="128.2" y1="1504.2" x2="128.2" y2="1512.7" stroke="#9a9a9a" stroke-width="0.9"/>
<line x1="130.4" y1="1504.2" x2="130.4" y2="1512.7" stroke="#9a9a9a" stroke-width="0.9"/>
<line x1="134.0" y1="1504.2" x2="134.0" y2="1512.7" stroke="#9a9a9a" stroke-width="0.9"/>
<line x1="136.9" y1="1504.2" x2="136.9" y2="1512.7" stroke="#9a9a9a" stroke-width="0.9"/>
<line x1="140.5" y1="1504.2" x2="140.5" y2="1512.7" stroke="#9a9a9a" stroke-width="0.9"/>
<line x1="143.3" y1="1504.2" x2="143.3" y2="1512.7" stroke="#9a9a9a" stroke-width="0.9"/>
<line x1="145.5" y1="1504.2" x2="145.5" y2="1512.7" stroke="#9a9a9a" stroke-width="0.9"/>
<line x1="148.0" y1="1504.2" x2="148.0" y2="1512.7" stroke="#9a9a9a" stroke-width="0.9"/>
<line x1="150.2" y1="1504.2" x2="150.2" y2="1512.7" stroke="#9a9a9a" stroke-width="0.9"/>
<line x1="152.7" y1="1504.2" x2="152.7" y2="1512.7" stroke="#9a9a9a" stroke-width="0.9"/>
<line x1="161.0" y1="1504.2" x2="161.0" y2="1512.7" stroke="#9a9a9a" stroke-width="0.9"/>
<line x1="169.3" y1="1504.2" x2="169.3" y2="1512.7" stroke="#9a9a9a" stroke-width="0.9"/>
<line x1="180.1" y1="1504.2" x2="180.1" y2="1512.7" stroke="#9a9a9a" stroke-width="0.9"/>
<line x1="183.0" y1="1504.2" x2="183.0" y2="1512.7" stroke="#9a9a9a" stroke-width="0.9"/>
<line x1="187.3" y1="1504.2" x2="187.3" y2="1512.7" stroke="#9a9a9a" stroke-width="0.9"/>
<line x1="196.3" y1="1504.2" x2="196.3" y2="1512.7" stroke="#9a9a9a" stroke-width="0.9"/>
<line x1="200.6" y1="1504.2" x2="200.6" y2="1512.7" stroke="#9a9a9a" stroke-width="0.9"/>
<line x1="204.9" y1="1504.2" x2="204.9" y2="1512.7" stroke="#9a9a9a" stroke-width="0.9"/>
<line x1="222.2" y1="1504.2" x2="222.2" y2="1512.7" stroke="#9a9a9a" stroke-width="0.9"/>
<line x1="257.5" y1="1504.2" x2="257.5" y2="1512.7" stroke="#9a9a9a" stroke-width="0.9"/>
<line x1="260.8" y1="1504.2" x2="260.8" y2="1512.7" stroke="#9a9a9a" stroke-width="0.9"/>
<line x1="288.9" y1="1504.2" x2="288.9" y2="1512.7" stroke="#9a9a9a" stroke-width="0.9"/>
<line x1="294.3" y1="1504.2" x2="294.3" y2="1512.7" stroke="#9a9a9a" stroke-width="0.9"/>
<line x1="335.3" y1="1504.2" x2="335.3" y2="1512.7" stroke="#9a9a9a" stroke-width="0.9"/>
<line x1="364.5" y1="1504.2" x2="364.5" y2="1512.7" stroke="#9a9a9a" stroke-width="0.9"/>
<line x1="381.8" y1="1504.2" x2="381.8" y2="1512.7" stroke="#9a9a9a" stroke-width="0.9"/>
<line x1="390.8" y1="1504.2" x2="390.8" y2="1512.7" stroke="#9a9a9a" stroke-width="0.9"/>
<line x1="434.7" y1="1504.2" x2="434.7" y2="1512.7" stroke="#9a9a9a" stroke-width="0.9"/>
<line x1="445.2" y1="1504.2" x2="445.2" y2="1512.7" stroke="#9a9a9a" stroke-width="0.9"/>
<line x1="449.1" y1="1504.2" x2="449.1" y2="1512.7" stroke="#9a9a9a" stroke-width="0.9"/>
<line x1="454.5" y1="1504.2" x2="454.5" y2="1512.7" stroke="#9a9a9a" stroke-width="0.9"/>
<line x1="497.0" y1="1504.2" x2="497.0" y2="1512.7" stroke="#9a9a9a" stroke-width="0.9"/>
<line x1="498.5" y1="1504.2" x2="498.5" y2="1512.7" stroke="#9a9a9a" stroke-width="0.9"/>
<line x1="514.3" y1="1504.2" x2="514.3" y2="1512.7" stroke="#9a9a9a" stroke-width="0.9"/>
<line x1="523.0" y1="1504.2" x2="523.0" y2="1512.7" stroke="#9a9a9a" stroke-width="0.9"/>
<line x1="544.9" y1="1504.2" x2="544.9" y2="1512.7" stroke="#9a9a9a" stroke-width="0.9"/>
<line x1="550.7" y1="1504.2" x2="550.7" y2="1512.7" stroke="#9a9a9a" stroke-width="0.9"/>
<line x1="559.0" y1="1504.2" x2="559.0" y2="1512.7" stroke="#9a9a9a" stroke-width="0.9"/>
<line x1="565.8" y1="1504.2" x2="565.8" y2="1512.7" stroke="#9a9a9a" stroke-width="0.9"/>
<line x1="571.9" y1="1504.2" x2="571.9" y2="1512.7" stroke="#9a9a9a" stroke-width="0.9"/>
<line x1="580.6" y1="1504.2" x2="580.6" y2="1512.7" stroke="#9a9a9a" stroke-width="0.9"/>
<line x1="583.5" y1="1504.2" x2="583.5" y2="1512.7" stroke="#9a9a9a" stroke-width="0.9"/>
<line x1="586.3" y1="1504.2" x2="586.3" y2="1512.7" stroke="#9a9a9a" stroke-width="0.9"/>
<line x1="589.2" y1="1504.2" x2="589.2" y2="1512.7" stroke="#9a9a9a" stroke-width="0.9"/>
<line x1="591.4" y1="1504.2" x2="591.4" y2="1512.7" stroke="#9a9a9a" stroke-width="0.9"/>
<line x1="594.3" y1="1504.2" x2="594.3" y2="1512.7" stroke="#9a9a9a" stroke-width="0.9"/>
<line x1="597.2" y1="1504.2" x2="597.2" y2="1512.7" stroke="#9a9a9a" stroke-width="0.9"/>
<line x1="599.3" y1="1504.2" x2="599.3" y2="1512.7" stroke="#9a9a9a" stroke-width="0.9"/>
<line x1="602.2" y1="1504.2" x2="602.2" y2="1512.7" stroke="#9a9a9a" stroke-width="0.9"/>
<line x1="605.1" y1="1504.2" x2="605.1" y2="1512.7" stroke="#9a9a9a" stroke-width="0.9"/>
<line x1="608.0" y1="1504.2" x2="608.0" y2="1512.7" stroke="#9a9a9a" stroke-width="0.9"/>
<line x1="610.5" y1="1504.2" x2="610.5" y2="1512.7" stroke="#9a9a9a" stroke-width="0.9"/>
<line x1="613.4" y1="1504.2" x2="613.4" y2="1512.7" stroke="#9a9a9a" stroke-width="0.9"/>
<line x1="616.6" y1="1504.2" x2="616.6" y2="1512.7" stroke="#9a9a9a" stroke-width="0.9"/>
<line x1="619.5" y1="1504.2" x2="619.5" y2="1512.7" stroke="#9a9a9a" stroke-width="0.9"/>
<line x1="622.4" y1="1504.2" x2="622.4" y2="1512.7" stroke="#9a9a9a" stroke-width="0.9"/>
<line x1="624.9" y1="1504.2" x2="624.9" y2="1512.7" stroke="#9a9a9a" stroke-width="0.9"/>
<line x1="628.5" y1="1504.2" x2="628.5" y2="1512.7" stroke="#9a9a9a" stroke-width="0.9"/>
<line x1="634.6" y1="1504.2" x2="634.6" y2="1512.7" stroke="#9a9a9a" stroke-width="0.9"/>
<clipPath id="cg"><rect x="105.5" y="1503.7" width="534.1" height="466.4"/></clipPath>
<g clip-path="url(#cg)">
<line x1="89.7" y1="1984.1" x2="668.1" y2="1479.0" stroke="#111" stroke-width="1.25" stroke-dasharray="4.3 3.8"/>
<polyline points="116.0,1963.4 142.3,1941.4 168.6,1918.9 194.8,1896.4 221.1,1873.4 247.4,1851.4 273.7,1829.8 300.0,1808.2 326.3,1786.6 342.1,1772.4 357.9,1756.3 378.9,1733.8 394.7,1716.4 410.4,1699.4 431.5,1677.8 457.8,1653.0 484.1,1630.5 510.4,1609.4 536.6,1588.3 562.9,1567.1 589.2,1545.1 615.5,1522.6 636.6,1506.5" fill="none" stroke="#333" stroke-width="1.1" stroke-linejoin="round" stroke-dasharray="1.2 3"/>
<polyline points="126.5,1939.1 137.0,1935.0 147.5,1928.1 158.0,1920.7 168.6,1912.9 194.8,1891.8 221.1,1870.2 247.4,1850.0 273.7,1829.8 300.0,1809.1 326.3,1788.0 342.1,1773.8 357.9,1757.7 378.9,1734.7 394.7,1717.3 410.4,1700.3 431.5,1677.8 457.8,1652.1 484.1,1629.1 510.4,1608.5 536.6,1588.7 562.9,1568.5 589.2,1547.4 618.7,1528.1" fill="none" stroke="#111" stroke-width="1.3" stroke-linejoin="round"/>
</g>
<rect x="105.5" y="1503.7" width="534.1" height="466.4" stroke="#121212" fill="none" stroke-width="1.4"/>
<line x1="116.0" y1="1970.1" x2="116.0" y2="1981.9" stroke="#121212" stroke-width="1.4"/>
<text x="116.0" y="2010.6" font-size="18.7" text-anchor="middle" fill="#050505">0.0</text>
<line x1="93.7" y1="1961.1" x2="105.5" y2="1961.1" stroke="#121212" stroke-width="1.4"/>
<text x="78.1" y="1961.1" font-size="18.7" text-anchor="middle" fill="#050505" transform="rotate(-90 78.1 1961.1)">0.0</text>
<line x1="221.1" y1="1970.1" x2="221.1" y2="1981.9" stroke="#121212" stroke-width="1.4"/>
<text x="221.1" y="2010.6" font-size="18.7" text-anchor="middle" fill="#050505">0.2</text>
<line x1="93.7" y1="1869.3" x2="105.5" y2="1869.3" stroke="#121212" stroke-width="1.4"/>
<text x="78.1" y="1869.3" font-size="18.7" text-anchor="middle" fill="#050505" transform="rotate(-90 78.1 1869.3)">0.2</text>
<line x1="326.3" y1="1970.1" x2="326.3" y2="1981.9" stroke="#121212" stroke-width="1.4"/>
<text x="326.3" y="2010.6" font-size="18.7" text-anchor="middle" fill="#050505">0.4</text>
<line x1="93.7" y1="1777.5" x2="105.5" y2="1777.5" stroke="#121212" stroke-width="1.4"/>
<text x="78.1" y="1777.5" font-size="18.7" text-anchor="middle" fill="#050505" transform="rotate(-90 78.1 1777.5)">0.4</text>
<line x1="431.5" y1="1970.1" x2="431.5" y2="1981.9" stroke="#121212" stroke-width="1.4"/>
<text x="431.5" y="2010.6" font-size="18.7" text-anchor="middle" fill="#050505">0.6</text>
<line x1="93.7" y1="1685.6" x2="105.5" y2="1685.6" stroke="#121212" stroke-width="1.4"/>
<text x="78.1" y="1685.6" font-size="18.7" text-anchor="middle" fill="#050505" transform="rotate(-90 78.1 1685.6)">0.6</text>
<line x1="536.6" y1="1970.1" x2="536.6" y2="1981.9" stroke="#121212" stroke-width="1.4"/>
<text x="536.6" y="2010.6" font-size="18.7" text-anchor="middle" fill="#050505">0.8</text>
<line x1="93.7" y1="1593.8" x2="105.5" y2="1593.8" stroke="#121212" stroke-width="1.4"/>
<text x="78.1" y="1593.8" font-size="18.7" text-anchor="middle" fill="#050505" transform="rotate(-90 78.1 1593.8)">0.8</text>
<text x="372.8" y="2055.6" font-size="18.7" text-anchor="middle" fill="#050505">Predicted probability</text>
<text x="33.3" y="1736.7" font-size="18.7" text-anchor="middle" fill="#050505" transform="rotate(-90 33.3 1736.7)">Actual probability</text>
<line x1="413.1" y1="1837.6" x2="448.4" y2="1837.6" stroke="#333" stroke-width="1.1" stroke-dasharray="1.2 3"/>
<line x1="413.1" y1="1859.9" x2="448.4" y2="1859.9" stroke="#111" stroke-width="1.3"/>
<line x1="413.1" y1="1882.3" x2="448.4" y2="1882.3" stroke="#111" stroke-width="1.25" stroke-dasharray="4.3 3.8"/>
<text x="464.6" y="1843.7" font-size="18.7" fill="#050505">Apparent</text>
<text x="464.6" y="1866.1" font-size="18.7" fill="#050505">Bias−corrected</text>
<text x="464.6" y="1888.4" font-size="18.7" fill="#050505">Ideal</text>
<line x1="780.3" y1="1490.0" x2="780.3" y2="1922.2" stroke="#ececec" stroke-width="1.2"/>
<line x1="879.2" y1="1490.0" x2="879.2" y2="1922.2" stroke="#ececec" stroke-width="1.2"/>
<line x1="978.1" y1="1490.0" x2="978.1" y2="1922.2" stroke="#ececec" stroke-width="1.2"/>
<line x1="1077.0" y1="1490.0" x2="1077.0" y2="1922.2" stroke="#ececec" stroke-width="1.2"/>
<line x1="1175.9" y1="1490.0" x2="1175.9" y2="1922.2" stroke="#ececec" stroke-width="1.2"/>
<line x1="1274.8" y1="1490.0" x2="1274.8" y2="1922.2" stroke="#ececec" stroke-width="1.2"/>
<line x1="760.5" y1="1906.8" x2="1294.6" y2="1906.8" stroke="#ececec" stroke-width="1.2"/>
<line x1="760.5" y1="1830.4" x2="1294.6" y2="1830.4" stroke="#ececec" stroke-width="1.2"/>
<line x1="760.5" y1="1754.0" x2="1294.6" y2="1754.0" stroke="#ececec" stroke-width="1.2"/>
<line x1="760.5" y1="1677.7" x2="1294.6" y2="1677.7" stroke="#ececec" stroke-width="1.2"/>
<line x1="760.5" y1="1601.3" x2="1294.6" y2="1601.3" stroke="#ececec" stroke-width="1.2"/>
<line x1="760.5" y1="1525.0" x2="1294.6" y2="1525.0" stroke="#ececec" stroke-width="1.2"/>
<polyline points="780.3,1525.0 799.7,1525.0 809.5,1535.1 814.9,1535.1 834.7,1554.9 839.0,1554.9 849.1,1565.7 853.8,1565.7 863.5,1580.8 868.9,1581.9 888.7,1601.7 893.4,1602.4 903.5,1612.5 908.5,1612.5 913.9,1617.5 923.6,1617.5 928.3,1622.6 938.0,1622.6 943.5,1627.6 953.5,1627.6 958.9,1633.0 967.9,1633.0 978.0,1638.4 983.1,1643.5 987.8,1643.5 993.2,1648.5 1002.2,1648.5 1007.6,1653.6 1017.6,1653.9 1022.7,1658.6 1037.1,1658.6 1041.8,1664.0 1067.0,1664.0 1072.4,1669.0 1081.4,1669.0 1086.8,1674.4 1116.7,1674.4 1121.7,1684.5 1136.1,1684.5 1140.8,1688.9 1150.5,1688.9 1160.6,1695.3 1170.7,1695.3 1180.4,1705.1 1189.4,1705.4 1195.6,1710.5 1205.7,1710.5 1220.1,1725.9 1225.5,1725.9 1230.1,1729.6 1235.2,1730.6 1239.9,1735.7 1245.3,1745.8 1250.0,1756.6 1255.0,1762.0 1259.7,1778.2 1265.1,1807.0 1269.8,1835.8 1274.8,1906.8" fill="none" stroke="#d9281f" stroke-width="1.0" stroke-linejoin="round"/>
<polyline points="780.3,1525.0 782.5,1580.1 785.3,1617.9 789.7,1634.1 795.1,1644.9 800.5,1652.1 804.8,1659.3 809.5,1664.7 814.9,1675.5 820.3,1680.9 825.0,1684.5 829.3,1685.3 834.7,1689.9 839.0,1689.9 849.1,1699.7 853.8,1700.7 863.5,1710.5 868.9,1711.5 873.9,1715.9 888.7,1715.9 893.4,1720.5 903.5,1721.3 908.5,1725.9 913.9,1726.3 918.6,1730.6 928.3,1731.4 933.7,1736.4 958.9,1736.8 963.3,1741.4 973.3,1741.4 978.0,1746.5 993.2,1746.5 1007.6,1751.9 1012.2,1756.6 1022.7,1757.3 1027.4,1762.0 1037.1,1762.0 1047.2,1767.4 1067.0,1767.4 1077.1,1772.8 1081.4,1777.5 1092.2,1777.5 1096.9,1782.5 1102.3,1782.5 1106.6,1787.2 1112.0,1787.2 1121.7,1792.6 1126.4,1797.3 1135.4,1798.0 1140.8,1802.7 1150.5,1803.4 1160.6,1813.1 1170.7,1823.2 1175.8,1823.9 1180.4,1833.3 1189.4,1844.8 1195.6,1844.8 1205.7,1864.6 1210.3,1870.0 1215.4,1880.8 1220.1,1884.4 1225.5,1895.2 1235.2,1906.8 1274.8,1906.8" fill="none" stroke="#d9281f" stroke-width="1.0" stroke-linejoin="round"/>
<polyline points="780.3,1525.0 804.1,1575.4 809.5,1576.5 815.6,1601.7 825.0,1601.7 829.3,1612.5 839.0,1612.5 844.4,1623.3 849.1,1637.7 854.5,1638.4 858.8,1648.5 864.2,1648.5 868.9,1658.6 879.0,1658.6 884.0,1664.0 908.5,1664.0 913.9,1669.0 918.6,1679.1 938.0,1679.1 953.5,1695.3 984.1,1695.3 988.5,1699.7 1011.2,1699.7 1016.6,1705.1 1027.4,1705.4 1032.8,1710.5 1037.1,1710.5 1041.8,1715.5 1081.4,1715.5 1102.3,1736.4 1130.7,1736.4 1136.1,1741.1 1140.8,1741.1 1146.2,1746.5 1150.5,1746.5 1162.4,1756.6 1185.8,1756.6 1196.6,1772.8 1200.2,1772.8 1205.7,1782.5 1210.3,1782.5 1220.1,1792.6 1225.5,1807.0 1230.1,1817.8 1235.2,1839.4 1239.9,1844.8 1245.3,1859.2 1250.0,1864.6 1255.0,1891.6 1259.7,1900.6 1265.1,1901.4 1269.8,1906.0 1274.8,1906.8" fill="none" stroke="#d9281f" stroke-width="2.3" stroke-linejoin="round"/>
<polyline points="780.3,1658.6 804.1,1658.6 809.5,1664.0 863.5,1664.0 868.9,1669.0 955.3,1669.0 963.3,1674.4 984.1,1674.4 988.5,1679.1 1022.7,1679.8 1027.4,1684.5 1067.0,1684.5 1072.4,1689.6 1116.7,1689.6 1121.7,1699.7 1136.1,1699.7 1140.8,1705.1 1166.0,1705.4 1170.7,1710.5 1180.4,1710.5 1189.4,1715.9 1195.6,1720.5 1215.4,1720.5 1220.1,1725.9 1225.5,1730.6 1235.2,1731.4 1239.9,1741.1 1245.3,1751.2 1250.0,1756.6 1255.0,1762.0 1259.7,1778.2 1265.1,1807.0 1269.8,1835.8 1274.8,1906.8" fill="none" stroke="#2a52a8" stroke-width="1.0" stroke-linejoin="round" stroke-dasharray="4 3"/>
<polyline points="780.3,1751.5 795.1,1751.5 799.7,1756.6 820.3,1756.6 825.0,1762.0 888.7,1762.0 893.4,1767.4 903.5,1767.4 912.1,1772.8 963.3,1772.8 967.9,1777.5 1007.6,1777.5 1012.2,1782.5 1041.8,1782.5 1047.2,1787.9 1077.1,1787.9 1081.4,1792.6 1092.2,1793.3 1096.9,1798.0 1106.6,1798.0 1121.7,1808.1 1136.1,1808.8 1146.2,1818.5 1150.5,1818.5 1166.0,1834.0 1175.8,1839.4 1189.4,1859.2 1195.6,1861.0 1200.2,1864.6 1210.3,1889.8 1215.4,1896.3 1220.1,1896.3 1230.1,1906.8 1274.8,1906.8" fill="none" stroke="#2a52a8" stroke-width="1.0" stroke-linejoin="round" stroke-dasharray="4 3"/>
<polyline points="780.3,1710.5 800.5,1710.5 814.9,1715.9 849.1,1715.9 861.7,1720.5 940.9,1720.5 948.1,1730.6 1011.2,1730.6 1017.6,1736.4 1037.1,1736.4 1042.5,1741.1 1081.4,1741.1 1086.8,1746.5 1096.9,1746.5 1102.3,1751.2 1140.8,1751.9 1162.4,1767.4 1184.0,1767.4 1195.6,1778.2 1200.2,1782.5 1205.7,1783.2 1210.3,1792.6 1215.4,1793.7 1220.1,1798.0 1230.1,1828.6 1235.2,1844.8 1239.9,1850.2 1245.3,1864.6 1250.0,1870.0 1255.0,1896.3 1259.7,1901.4 1265.1,1901.4 1269.8,1906.8 1274.8,1906.8" fill="none" stroke="#2a52a8" stroke-width="2.3" stroke-linejoin="round" stroke-dasharray="9 9.5"/>
<line x1="760.5" y1="1525.0" x2="760.5" y2="1906.8" stroke="#121212" stroke-width="1.4"/>
<line x1="749.0" y1="1906.8" x2="760.5" y2="1906.8" stroke="#121212" stroke-width="1.4"/>
<text x="733.5" y="1906.8" font-size="18.7" text-anchor="middle" fill="#050505" transform="rotate(-90 733.5 1906.8)">0</text>
<line x1="749.0" y1="1830.4" x2="760.5" y2="1830.4" stroke="#121212" stroke-width="1.4"/>
<text x="733.5" y="1830.4" font-size="18.7" text-anchor="middle" fill="#050505" transform="rotate(-90 733.5 1830.4)">200</text>
<line x1="749.0" y1="1754.0" x2="760.5" y2="1754.0" stroke="#121212" stroke-width="1.4"/>
<text x="733.5" y="1754.0" font-size="18.7" text-anchor="middle" fill="#050505" transform="rotate(-90 733.5 1754.0)">400</text>
<line x1="749.0" y1="1677.7" x2="760.5" y2="1677.7" stroke="#121212" stroke-width="1.4"/>
<text x="733.5" y="1677.7" font-size="18.7" text-anchor="middle" fill="#050505" transform="rotate(-90 733.5 1677.7)">600</text>
<line x1="749.0" y1="1601.3" x2="760.5" y2="1601.3" stroke="#121212" stroke-width="1.4"/>
<text x="733.5" y="1601.3" font-size="18.7" text-anchor="middle" fill="#050505" transform="rotate(-90 733.5 1601.3)">800</text>
<line x1="749.0" y1="1525.0" x2="760.5" y2="1525.0" stroke="#121212" stroke-width="1.4"/>
<text x="733.5" y="1525.0" font-size="18.7" text-anchor="middle" fill="#050505" transform="rotate(-90 733.5 1525.0)">1000</text>
<line x1="780.3" y1="1922.2" x2="1274.8" y2="1922.2" stroke="#121212" stroke-width="1.4"/>
<line x1="780.3" y1="1922.2" x2="780.3" y2="1933.8" stroke="#121212" stroke-width="1.4"/>
<text x="780.3" y="1962.2" font-size="18.7" text-anchor="middle" fill="#050505">0.0</text>
<line x1="879.2" y1="1922.2" x2="879.2" y2="1933.8" stroke="#121212" stroke-width="1.4"/>
<text x="879.2" y="1962.2" font-size="18.7" text-anchor="middle" fill="#050505">0.2</text>
<line x1="978.1" y1="1922.2" x2="978.1" y2="1933.8" stroke="#121212" stroke-width="1.4"/>
<text x="978.1" y="1962.2" font-size="18.7" text-anchor="middle" fill="#050505">0.4</text>
<line x1="1077.0" y1="1922.2" x2="1077.0" y2="1933.8" stroke="#121212" stroke-width="1.4"/>
<text x="1077.0" y="1962.2" font-size="18.7" text-anchor="middle" fill="#050505">0.6</text>
<line x1="1175.9" y1="1922.2" x2="1175.9" y2="1933.8" stroke="#121212" stroke-width="1.4"/>
<text x="1175.9" y="1962.2" font-size="18.7" text-anchor="middle" fill="#050505">0.8</text>
<line x1="1274.8" y1="1922.2" x2="1274.8" y2="1933.8" stroke="#121212" stroke-width="1.4"/>
<text x="1274.8" y="1962.2" font-size="18.7" text-anchor="middle" fill="#050505">1.0</text>
<text x="1027.4" y="1990.0" font-size="18.7" text-anchor="middle" fill="#050505">High Risk Threshold</text>
<text x="688.2" y="1706.0" font-size="18.7" text-anchor="middle" fill="#050505" transform="rotate(-90 688.2 1706.0)">Number high risk (out of 1000)</text>
<line x1="785.3" y1="2012.3" x2="1269.8" y2="2012.3" stroke="#121212" stroke-width="1.4"/>
<line x1="785.3" y1="2012.3" x2="785.3" y2="2023.8" stroke="#121212" stroke-width="1.4"/>
<text x="785.3" y="2052.2" font-size="18.7" text-anchor="middle" fill="#050505">1:100</text>
<line x1="879.2" y1="2012.3" x2="879.2" y2="2023.8" stroke="#121212" stroke-width="1.4"/>
<text x="879.2" y="2052.2" font-size="18.7" text-anchor="middle" fill="#050505">1:4</text>
<line x1="978.1" y1="2012.3" x2="978.1" y2="2023.8" stroke="#121212" stroke-width="1.4"/>
<text x="978.1" y="2052.2" font-size="18.7" text-anchor="middle" fill="#050505">2:3</text>
<line x1="1077.0" y1="2012.3" x2="1077.0" y2="2023.8" stroke="#121212" stroke-width="1.4"/>
<text x="1077.0" y="2052.2" font-size="18.7" text-anchor="middle" fill="#050505">3:2</text>
<line x1="1175.9" y1="2012.3" x2="1175.9" y2="2023.8" stroke="#121212" stroke-width="1.4"/>
<text x="1175.9" y="2052.2" font-size="18.7" text-anchor="middle" fill="#050505">4:1</text>
<line x1="1269.8" y1="2012.3" x2="1269.8" y2="2023.8" stroke="#121212" stroke-width="1.4"/>
<text x="1269.8" y="2052.2" font-size="18.7" text-anchor="middle" fill="#050505">100:1</text>
<text x="1027.4" y="2077.8" font-size="18.7" text-anchor="middle" fill="#050505">Cost:Benefit Ratio</text>
<rect x="988.5" y="1490.0" width="306.1" height="67.0" stroke="#121212" fill="#fff" stroke-width="1.2"/>
<line x1="1005.0" y1="1512.7" x2="1040.0" y2="1512.7" stroke="#d9281f" stroke-width="2.3"/>
<line x1="1005.0" y1="1535.1" x2="1040.0" y2="1535.1" stroke="#2a52a8" stroke-width="1.0" stroke-dasharray="4 3"/>
<text x="1056.2" y="1518.9" font-size="18.7" fill="#050505">Number high risk</text>
<text x="1056.2" y="1541.2" font-size="18.7" fill="#050505">Number high risk with event</text>
<line x1="1440.1" y1="1490.2" x2="1440.1" y2="1923.3" stroke="#ececec" stroke-width="1.2"/>
<line x1="1538.9" y1="1490.2" x2="1538.9" y2="1923.3" stroke="#ececec" stroke-width="1.2"/>
<line x1="1637.7" y1="1490.2" x2="1637.7" y2="1923.3" stroke="#ececec" stroke-width="1.2"/>
<line x1="1736.6" y1="1490.2" x2="1736.6" y2="1923.3" stroke="#ececec" stroke-width="1.2"/>
<line x1="1835.4" y1="1490.2" x2="1835.4" y2="1923.3" stroke="#ececec" stroke-width="1.2"/>
<line x1="1934.2" y1="1490.2" x2="1934.2" y2="1923.3" stroke="#ececec" stroke-width="1.2"/>
<line x1="1420.1" y1="1874.1" x2="1954.2" y2="1874.1" stroke="#ececec" stroke-width="1.2"/>
<line x1="1420.1" y1="1808.9" x2="1954.2" y2="1808.9" stroke="#ececec" stroke-width="1.2"/>
<line x1="1420.1" y1="1743.7" x2="1954.2" y2="1743.7" stroke="#ececec" stroke-width="1.2"/>
<line x1="1420.1" y1="1678.5" x2="1954.2" y2="1678.5" stroke="#ececec" stroke-width="1.2"/>
<line x1="1420.1" y1="1613.3" x2="1954.2" y2="1613.3" stroke="#ececec" stroke-width="1.2"/>
<line x1="1420.1" y1="1548.1" x2="1954.2" y2="1548.1" stroke="#ececec" stroke-width="1.2"/>
<polyline points="1440.1,1539.3 1440.6,1539.6 1441.1,1539.9 1441.6,1540.2 1442.1,1540.6 1442.5,1540.9 1443.0,1541.2 1443.5,1541.5 1444.0,1541.9 1444.5,1542.2 1445.0,1542.5 1445.5,1542.8 1446.0,1543.1 1446.5,1543.5 1447.0,1543.8 1447.5,1544.1 1448.0,1544.5 1448.5,1544.8 1449.0,1545.1 1449.5,1545.4 1450.0,1545.8 1450.5,1546.1 1450.9,1546.4 1451.4,1546.8 1451.9,1547.1 1452.4,1547.4 1452.9,1547.8 1453.4,1548.1 1453.9,1548.4 1454.4,1548.8 1454.9,1549.1 1455.4,1549.4 1455.9,1549.8 1456.4,1550.1 1456.9,1550.5 1457.4,1550.8 1457.9,1551.1 1458.4,1551.5 1458.9,1551.8 1459.4,1552.2 1459.8,1552.5 1460.3,1552.9 1460.8,1553.2 1461.3,1553.5 1461.8,1553.9 1462.3,1554.2 1462.8,1554.6 1463.3,1554.9 1463.8,1555.3 1464.3,1555.6 1464.8,1556.0 1465.3,1556.3 1465.8,1556.7 1466.3,1557.0 1466.8,1557.4 1467.3,1557.8 1467.8,1558.1 1468.2,1558.5 1468.7,1558.8 1469.2,1559.2 1469.7,1559.5 1470.2,1559.9 1470.7,1560.3 1471.2,1560.6 1471.7,1561.0 1472.2,1561.3 1472.7,1561.7 1473.2,1562.1 1473.7,1562.4 1474.2,1562.8 1474.7,1563.2 1475.2,1563.5 1475.7,1563.9 1476.2,1564.3 1476.6,1564.6 1477.1,1565.0 1477.6,1565.4 1478.1,1565.8 1478.6,1566.1 1479.1,1566.5 1479.6,1566.9 1480.1,1567.3 1480.6,1567.6 1481.1,1568.0 1481.6,1568.4 1482.1,1568.8 1482.6,1569.1 1483.1,1569.5 1483.6,1569.9 1484.1,1570.3 1484.6,1570.7 1485.0,1571.1 1485.5,1571.4 1486.0,1571.8 1486.5,1572.2 1487.0,1572.6 1487.5,1573.0 1488.0,1573.4 1488.5,1573.8 1489.0,1574.2 1489.5,1574.5 1490.0,1574.9 1490.5,1575.3 1491.0,1575.7 1491.5,1576.1 1492.0,1576.5 1492.5,1576.9 1493.0,1577.3 1493.4,1577.7 1493.9,1578.1 1494.4,1578.5 1494.9,1578.9 1495.4,1579.3 1495.9,1579.7 1496.4,1580.1 1496.9,1580.5 1497.4,1580.9 1497.9,1581.3 1498.4,1581.7 1498.9,1582.1 1499.4,1582.6 1499.9,1583.0 1500.4,1583.4 1500.9,1583.8 1501.4,1584.2 1501.8,1584.6 1502.3,1585.0 1502.8,1585.4 1503.3,1585.9 1503.8,1586.3 1504.3,1586.7 1504.8,1587.1 1505.3,1587.5 1505.8,1588.0 1506.3,1588.4 1506.8,1588.8 1507.3,1589.2 1507.8,1589.7 1508.3,1590.1 1508.8,1590.5 1509.3,1590.9 1509.8,1591.4 1510.2,1591.8 1510.7,1592.2 1511.2,1592.7 1511.7,1593.1 1512.2,1593.5 1512.7,1594.0 1513.2,1594.4 1513.7,1594.8 1514.2,1595.3 1514.7,1595.7 1515.2,1596.2 1515.7,1596.6 1516.2,1597.0 1516.7,1597.5 1517.2,1597.9 1517.7,1598.4 1518.2,1598.8 1518.6,1599.3 1519.1,1599.7 1519.6,1600.2 1520.1,1600.6 1520.6,1601.1 1521.1,1601.5 1521.6,1602.0 1522.1,1602.4 1522.6,1602.9 1523.1,1603.3 1523.6,1603.8 1524.1,1604.3 1524.6,1604.7 1525.1,1605.2 1525.6,1605.7 1526.1,1606.1 1526.6,1606.6 1527.0,1607.1 1527.5,1607.5 1528.0,1608.0 1528.5,1608.5 1529.0,1608.9 1529.5,1609.4 1530.0,1609.9 1530.5,1610.4 1531.0,1610.8 1531.5,1611.3 1532.0,1611.8 1532.5,1612.3 1533.0,1612.7 1533.5,1613.2 1534.0,1613.7 1534.5,1614.2 1535.0,1614.7 1535.4,1615.2 1535.9,1615.6 1536.4,1616.1 1536.9,1616.6 1537.4,1617.1 1537.9,1617.6 1538.4,1618.1 1538.9,1618.6 1539.4,1619.1 1539.9,1619.6 1540.4,1620.1 1540.9,1620.6 1541.4,1621.1 1541.9,1621.6 1542.4,1622.1 1542.9,1622.6 1543.4,1623.1 1543.8,1623.6 1544.3,1624.1 1544.8,1624.6 1545.3,1625.2 1545.8,1625.7 1546.3,1626.2 1546.8,1626.7 1547.3,1627.2 1547.8,1627.7 1548.3,1628.2 1548.8,1628.8 1549.3,1629.3 1549.8,1629.8 1550.3,1630.3 1550.8,1630.9 1551.3,1631.4 1551.8,1631.9 1552.2,1632.5 1552.7,1633.0 1553.2,1633.5 1553.7,1634.1 1554.2,1634.6 1554.7,1635.1 1555.2,1635.7 1555.7,1636.2 1556.2,1636.7 1556.7,1637.3 1557.2,1637.8 1557.7,1638.4 1558.2,1638.9 1558.7,1639.5 1559.2,1640.0 1559.7,1640.6 1560.2,1641.1 1560.6,1641.7 1561.1,1642.2 1561.6,1642.8 1562.1,1643.4 1562.6,1643.9 1563.1,1644.5 1563.6,1645.0 1564.1,1645.6 1564.6,1646.2 1565.1,1646.7 1565.6,1647.3 1566.1,1647.9 1566.6,1648.4 1567.1,1649.0 1567.6,1649.6 1568.1,1650.2 1568.6,1650.8 1569.0,1651.3 1569.5,1651.9 1570.0,1652.5 1570.5,1653.1 1571.0,1653.7 1571.5,1654.3 1572.0,1654.8 1572.5,1655.4 1573.0,1656.0 1573.5,1656.6 1574.0,1657.2 1574.5,1657.8 1575.0,1658.4 1575.5,1659.0 1576.0,1659.6 1576.5,1660.2 1577.0,1660.8 1577.4,1661.4 1577.9,1662.0 1578.4,1662.7 1578.9,1663.3 1579.4,1663.9 1579.9,1664.5 1580.4,1665.1 1580.9,1665.7 1581.4,1666.4 1581.9,1667.0 1582.4,1667.6 1582.9,1668.2 1583.4,1668.9 1583.9,1669.5 1584.4,1670.1 1584.9,1670.8 1585.4,1671.4 1585.9,1672.0 1586.3,1672.7 1586.8,1673.3 1587.3,1674.0 1587.8,1674.6 1588.3,1675.2 1588.8,1675.9 1589.3,1676.5 1589.8,1677.2 1590.3,1677.9 1590.8,1678.5 1591.3,1679.2 1591.8,1679.8 1592.3,1680.5 1592.8,1681.2 1593.3,1681.8 1593.8,1682.5 1594.3,1683.2 1594.7,1683.8 1595.2,1684.5 1595.7,1685.2 1596.2,1685.9 1596.7,1686.5 1597.2,1687.2 1597.7,1687.9 1598.2,1688.6 1598.7,1689.3 1599.2,1690.0 1599.7,1690.6 1600.2,1691.3 1600.7,1692.0 1601.2,1692.7 1601.7,1693.4 1602.2,1694.1 1602.7,1694.8 1603.1,1695.5 1603.6,1696.2 1604.1,1697.0 1604.6,1697.7 1605.1,1698.4 1605.6,1699.1 1606.1,1699.8 1606.6,1700.5 1607.1,1701.3 1607.6,1702.0 1608.1,1702.7 1608.6,1703.4 1609.1,1704.2 1609.6,1704.9 1610.1,1705.6 1610.6,1706.4 1611.1,1707.1 1611.5,1707.9 1612.0,1708.6 1612.5,1709.4 1613.0,1710.1 1613.5,1710.9 1614.0,1711.6 1614.5,1712.4 1615.0,1713.1 1615.5,1713.9 1616.0,1714.7 1616.5,1715.4 1617.0,1716.2 1617.5,1717.0 1618.0,1717.7 1618.5,1718.5 1619.0,1719.3 1619.5,1720.1 1619.9,1720.9 1620.4,1721.6 1620.9,1722.4 1621.4,1723.2 1621.9,1724.0 1622.4,1724.8 1622.9,1725.6 1623.4,1726.4 1623.9,1727.2 1624.4,1728.0 1624.9,1728.8 1625.4,1729.6 1625.9,1730.4 1626.4,1731.3 1626.9,1732.1 1627.4,1732.9 1627.9,1733.7 1628.3,1734.6 1628.8,1735.4 1629.3,1736.2 1629.8,1737.0 1630.3,1737.9 1630.8,1738.7 1631.3,1739.6 1631.8,1740.4 1632.3,1741.3 1632.8,1742.1 1633.3,1743.0 1633.8,1743.8 1634.3,1744.7 1634.8,1745.5 1635.3,1746.4 1635.8,1747.3 1636.3,1748.1 1636.7,1749.0 1637.2,1749.9 1637.7,1750.8 1638.2,1751.7 1638.7,1752.5 1639.2,1753.4 1639.7,1754.3 1640.2,1755.2 1640.7,1756.1 1641.2,1757.0 1641.7,1757.9 1642.2,1758.8 1642.7,1759.7 1643.2,1760.7 1643.7,1761.6 1644.2,1762.5 1644.7,1763.4 1645.1,1764.3 1645.6,1765.3 1646.1,1766.2 1646.6,1767.1 1647.1,1768.1 1647.6,1769.0 1648.1,1770.0 1648.6,1770.9 1649.1,1771.9 1649.6,1772.8 1650.1,1773.8 1650.6,1774.7 1651.1,1775.7 1651.6,1776.7 1652.1,1777.6 1652.6,1778.6 1653.1,1779.6 1653.5,1780.6 1654.0,1781.6 1654.5,1782.5 1655.0,1783.5 1655.5,1784.5 1656.0,1785.5 1656.5,1786.5 1657.0,1787.5 1657.5,1788.5 1658.0,1789.6 1658.5,1790.6 1659.0,1791.6 1659.5,1792.6 1660.0,1793.6 1660.5,1794.7 1661.0,1795.7 1661.5,1796.8 1661.9,1797.8 1662.4,1798.8 1662.9,1799.9 1663.4,1800.9 1663.9,1802.0 1664.4,1803.1 1664.9,1804.1 1665.4,1805.2 1665.9,1806.3 1666.4,1807.4 1666.9,1808.4 1667.4,1809.5 1667.9,1810.6 1668.4,1811.7 1668.9,1812.8 1669.4,1813.9 1669.9,1815.0 1670.3,1816.1 1670.8,1817.2 1671.3,1818.4 1671.8,1819.5 1672.3,1820.6 1672.8,1821.7 1673.3,1822.9 1673.8,1824.0 1674.3,1825.2 1674.8,1826.3 1675.3,1827.5 1675.8,1828.6 1676.3,1829.8 1676.8,1830.9 1677.3,1832.1 1677.8,1833.3 1678.3,1834.5 1678.7,1835.7 1679.2,1836.8 1679.7,1838.0 1680.2,1839.2 1680.7,1840.4 1681.2,1841.7 1681.7,1842.9 1682.2,1844.1 1682.7,1845.3 1683.2,1846.5 1683.7,1847.8 1684.2,1849.0 1684.7,1850.2 1685.2,1851.5 1685.7,1852.7 1686.2,1854.0 1686.7,1855.3 1687.1,1856.5 1687.6,1857.8 1688.1,1859.1 1688.6,1860.4 1689.1,1861.6 1689.6,1862.9 1690.1,1864.2 1690.6,1865.5 1691.1,1866.8 1691.6,1868.2 1692.1,1869.5 1692.6,1870.8 1693.1,1872.1 1693.6,1873.5 1694.1,1874.8 1694.6,1876.1 1695.1,1877.5 1695.5,1878.9 1696.0,1880.2 1696.5,1881.6 1697.0,1883.0 1697.5,1884.3 1698.0,1885.7 1698.5,1887.1 1699.0,1888.5 1699.5,1889.9 1700.0,1891.3 1700.5,1892.7 1701.0,1894.2 1701.5,1895.6 1702.0,1897.0 1702.5,1898.5 1703.0,1899.9 1703.5,1901.4 1704.0,1902.8 1704.4,1904.3 1704.9,1905.7 1705.4,1907.2 1705.9,1908.7 1706.4,1910.2 1706.9,1911.7 1707.4,1913.2 1707.9,1914.7 1708.4,1916.2 1708.9,1917.7 1709.4,1919.3 1709.9,1920.8 1710.4,1922.3 1710.7,1923.3" fill="none" stroke="#9a9a9a" stroke-width="1.0" stroke-linejoin="round"/>
<line x1="1440.1" y1="1874.1" x2="1929.5" y2="1874.1" stroke="#222" stroke-width="1.3"/>
<polyline points="1440.1,1539.0 1465.5,1552.1 1469.9,1553.9 1474.6,1562.7 1483.7,1567.4 1489.2,1567.4 1498.3,1571.7 1503.8,1571.7 1509.2,1580.1 1514.7,1581.2 1519.0,1580.1 1523.8,1581.2 1529.2,1579.8 1538.3,1582.7 1543.8,1582.3 1569.3,1591.0 1573.6,1589.6 1578.4,1584.5 1598.4,1589.9 1608.2,1610.7 1613.3,1607.4 1642.0,1617.2 1647.5,1612.9 1671.9,1620.9 1677.3,1632.2 1682.1,1633.6 1686.8,1636.5 1691.9,1628.9 1697.0,1630.7 1702.1,1641.2 1736.6,1657.6 1741.4,1660.5 1746.5,1672.5 1756.6,1648.2 1761.4,1658.7 1771.2,1662.7 1781.4,1667.8 1791.2,1674.4 1795.9,1655.4 1801.0,1657.6 1805.8,1668.5 1810.5,1671.5 1815.6,1682.0 1820.7,1695.1 1825.8,1698.4 1835.2,1707.5 1845.1,1716.6 1850.2,1730.0 1854.9,1755.5 1860.0,1762.1 1864.7,1788.6 1869.8,1797.4 1874.9,1817.7 1880.4,1840.3 1884.7,1876.7 1889.8,1921.1 1894.9,1869.4 1899.7,1894.9 1902.9,1923.3" fill="none" stroke="#d9281f" stroke-width="2.3" stroke-linejoin="round"/>
<polyline points="1917.5,1923.3 1919.3,1865.0 1924.8,1865.0 1929.5,1874.1" fill="none" stroke="#d9281f" stroke-width="2.3" stroke-linejoin="round"/>
<line x1="1420.1" y1="1548.1" x2="1420.1" y2="1874.1" stroke="#121212" stroke-width="1.4"/>
<line x1="1408.4" y1="1874.1" x2="1420.1" y2="1874.1" stroke="#121212" stroke-width="1.4"/>
<text x="1393.3" y="1874.1" font-size="18.7" text-anchor="middle" fill="#050505" transform="rotate(-90 1393.3 1874.1)">0.0</text>
<line x1="1408.4" y1="1808.9" x2="1420.1" y2="1808.9" stroke="#121212" stroke-width="1.4"/>
<text x="1393.3" y="1808.9" font-size="18.7" text-anchor="middle" fill="#050505" transform="rotate(-90 1393.3 1808.9)">0.1</text>
<line x1="1408.4" y1="1743.7" x2="1420.1" y2="1743.7" stroke="#121212" stroke-width="1.4"/>
<text x="1393.3" y="1743.7" font-size="18.7" text-anchor="middle" fill="#050505" transform="rotate(-90 1393.3 1743.7)">0.2</text>
<line x1="1408.4" y1="1678.5" x2="1420.1" y2="1678.5" stroke="#121212" stroke-width="1.4"/>
<text x="1393.3" y="1678.5" font-size="18.7" text-anchor="middle" fill="#050505" transform="rotate(-90 1393.3 1678.5)">0.3</text>
<line x1="1408.4" y1="1613.3" x2="1420.1" y2="1613.3" stroke="#121212" stroke-width="1.4"/>
<text x="1393.3" y="1613.3" font-size="18.7" text-anchor="middle" fill="#050505" transform="rotate(-90 1393.3 1613.3)">0.4</text>
<line x1="1408.4" y1="1548.1" x2="1420.1" y2="1548.1" stroke="#121212" stroke-width="1.4"/>
<text x="1393.3" y="1548.1" font-size="18.7" text-anchor="middle" fill="#050505" transform="rotate(-90 1393.3 1548.1)">0.5</text>
<line x1="1440.1" y1="1923.3" x2="1934.2" y2="1923.3" stroke="#121212" stroke-width="1.4"/>
<line x1="1440.1" y1="1923.3" x2="1440.1" y2="1934.9" stroke="#121212" stroke-width="1.4"/>
<text x="1440.1" y="1963.3" font-size="18.7" text-anchor="middle" fill="#050505">0.0</text>
<line x1="1538.9" y1="1923.3" x2="1538.9" y2="1934.9" stroke="#121212" stroke-width="1.4"/>
<text x="1538.9" y="1963.3" font-size="18.7" text-anchor="middle" fill="#050505">0.2</text>
<line x1="1637.7" y1="1923.3" x2="1637.7" y2="1934.9" stroke="#121212" stroke-width="1.4"/>
<text x="1637.7" y="1963.3" font-size="18.7" text-anchor="middle" fill="#050505">0.4</text>
<line x1="1736.6" y1="1923.3" x2="1736.6" y2="1934.9" stroke="#121212" stroke-width="1.4"/>
<text x="1736.6" y="1963.3" font-size="18.7" text-anchor="middle" fill="#050505">0.6</text>
<line x1="1835.4" y1="1923.3" x2="1835.4" y2="1934.9" stroke="#121212" stroke-width="1.4"/>
<text x="1835.4" y="1963.3" font-size="18.7" text-anchor="middle" fill="#050505">0.8</text>
<line x1="1934.2" y1="1923.3" x2="1934.2" y2="1934.9" stroke="#121212" stroke-width="1.4"/>
<text x="1934.2" y="1963.3" font-size="18.7" text-anchor="middle" fill="#050505">1.0</text>
<text x="1686.8" y="1990.2" font-size="18.7" text-anchor="middle" fill="#050505">Threshold probability</text>
<text x="1348.5" y="1705.7" font-size="18.7" text-anchor="middle" fill="#050505" transform="rotate(-90 1348.5 1705.7)">Net Benefit</text>
<line x1="1444.8" y1="2013.1" x2="1929.5" y2="2013.1" stroke="#121212" stroke-width="1.4"/>
<line x1="1444.8" y1="2013.1" x2="1444.8" y2="2024.8" stroke="#121212" stroke-width="1.4"/>
<text x="1444.8" y="2052.4" font-size="18.7" text-anchor="middle" fill="#050505">1:100</text>
<line x1="1538.9" y1="2013.1" x2="1538.9" y2="2024.8" stroke="#121212" stroke-width="1.4"/>
<text x="1538.9" y="2052.4" font-size="18.7" text-anchor="middle" fill="#050505">1:4</text>
<line x1="1637.7" y1="2013.1" x2="1637.7" y2="2024.8" stroke="#121212" stroke-width="1.4"/>
<text x="1637.7" y="2052.4" font-size="18.7" text-anchor="middle" fill="#050505">2:3</text>
<line x1="1736.6" y1="2013.1" x2="1736.6" y2="2024.8" stroke="#121212" stroke-width="1.4"/>
<text x="1736.6" y="2052.4" font-size="18.7" text-anchor="middle" fill="#050505">3:2</text>
<line x1="1835.4" y1="2013.1" x2="1835.4" y2="2024.8" stroke="#121212" stroke-width="1.4"/>
<text x="1835.4" y="2052.4" font-size="18.7" text-anchor="middle" fill="#050505">4:1</text>
<line x1="1929.5" y1="2013.1" x2="1929.5" y2="2024.8" stroke="#121212" stroke-width="1.4"/>
<text x="1929.5" y="2052.4" font-size="18.7" text-anchor="middle" fill="#050505">100:1</text>
<text x="1686.8" y="2077.5" font-size="18.7" text-anchor="middle" fill="#050505">Cost:Benefit Ratio</text>
<rect x="1783.6" y="1489.9" width="202.3" height="106.6" stroke="#121212" fill="#fff" stroke-width="1.2"/>
<line x1="1788.3" y1="1512.1" x2="1822.1" y2="1512.1" stroke="#d9281f" stroke-width="2.3"/>
<line x1="1788.3" y1="1534.6" x2="1822.1" y2="1534.6" stroke="#9a9a9a" stroke-width="1.0"/>
<line x1="1788.3" y1="1557.2" x2="1822.1" y2="1557.2" stroke="#222" stroke-width="1.3"/>
<text x="1824.7" y="1515.7" font-size="18.7" fill="#050505">Senescence genes</text>
<text x="1865.4" y="1539.0" font-size="18.7" text-anchor="middle" fill="#050505">All</text>
<text x="1861.1" y="1563.7" font-size="18.7" text-anchor="middle" fill="#050505">None</text>
</svg>
</body></html>
